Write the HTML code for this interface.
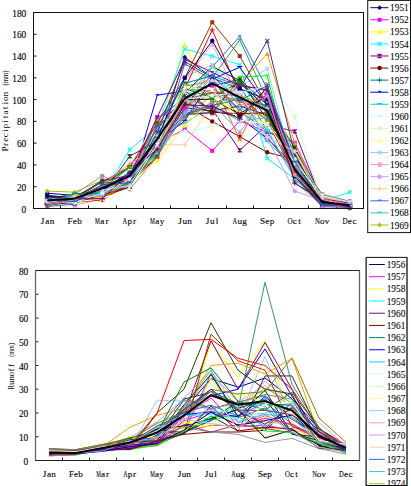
<!DOCTYPE html>
<html><head><meta charset="utf-8"><style>
html,body{margin:0;padding:0;background:#fff;}
body{width:411px;height:486px;overflow:hidden;}
svg{display:block;}
text{font-family:"Liberation Serif",serif;fill:#000;}
.tl{font-size:9.4px;stroke:#000;stroke-width:0.12px;}
.ml{font-size:9.2px;stroke:#000;stroke-width:0.12px;}
.lg{font-size:9.3px;stroke:#000;stroke-width:0.08px;}
.at{font-size:9.2px;}
</style></head><body>
<svg width="411" height="486" viewBox="0 0 411 486">
<line x1="33.5" y1="208.50" x2="36.5" y2="208.50" stroke="#111" stroke-width="1"/>
<text x="26.30" y="212.50" class="tl" text-anchor="end">0</text>
<line x1="33.5" y1="186.72" x2="36.5" y2="186.72" stroke="#111" stroke-width="1"/>
<text x="26.30" y="190.72" class="tl" text-anchor="end">20</text>
<line x1="33.5" y1="164.94" x2="36.5" y2="164.94" stroke="#111" stroke-width="1"/>
<text x="26.30" y="168.94" class="tl" text-anchor="end">40</text>
<line x1="33.5" y1="143.17" x2="36.5" y2="143.17" stroke="#111" stroke-width="1"/>
<text x="26.30" y="147.17" class="tl" text-anchor="end">60</text>
<line x1="33.5" y1="121.39" x2="36.5" y2="121.39" stroke="#111" stroke-width="1"/>
<text x="26.30" y="125.39" class="tl" text-anchor="end">80</text>
<line x1="33.5" y1="99.61" x2="36.5" y2="99.61" stroke="#111" stroke-width="1"/>
<text x="26.30" y="103.61" class="tl" text-anchor="end">100</text>
<line x1="33.5" y1="77.83" x2="36.5" y2="77.83" stroke="#111" stroke-width="1"/>
<text x="26.30" y="81.83" class="tl" text-anchor="end">120</text>
<line x1="33.5" y1="56.06" x2="36.5" y2="56.06" stroke="#111" stroke-width="1"/>
<text x="26.30" y="60.06" class="tl" text-anchor="end">140</text>
<line x1="33.5" y1="34.28" x2="36.5" y2="34.28" stroke="#111" stroke-width="1"/>
<text x="26.30" y="38.28" class="tl" text-anchor="end">160</text>
<line x1="33.5" y1="12.50" x2="36.5" y2="12.50" stroke="#111" stroke-width="1"/>
<text x="26.30" y="16.50" class="tl" text-anchor="end">180</text>
<line x1="60.50" y1="208.5" x2="60.50" y2="205.5" stroke="#111" stroke-width="1"/>
<line x1="88.50" y1="208.5" x2="88.50" y2="205.5" stroke="#111" stroke-width="1"/>
<line x1="116.50" y1="208.5" x2="116.50" y2="205.5" stroke="#111" stroke-width="1"/>
<line x1="143.50" y1="208.5" x2="143.50" y2="205.5" stroke="#111" stroke-width="1"/>
<line x1="170.50" y1="208.5" x2="170.50" y2="205.5" stroke="#111" stroke-width="1"/>
<line x1="198.50" y1="208.5" x2="198.50" y2="205.5" stroke="#111" stroke-width="1"/>
<line x1="226.50" y1="208.5" x2="226.50" y2="205.5" stroke="#111" stroke-width="1"/>
<line x1="253.50" y1="208.5" x2="253.50" y2="205.5" stroke="#111" stroke-width="1"/>
<line x1="280.50" y1="208.5" x2="280.50" y2="205.5" stroke="#111" stroke-width="1"/>
<line x1="308.50" y1="208.5" x2="308.50" y2="205.5" stroke="#111" stroke-width="1"/>
<line x1="336.50" y1="208.5" x2="336.50" y2="205.5" stroke="#111" stroke-width="1"/>
<text x="42.45" y="224.40" text-anchor="middle" class="ml">J</text><text x="47.25" y="224.40" text-anchor="middle" class="ml">a</text><text x="52.05" y="224.40" text-anchor="middle" class="ml">n</text>
<text x="69.95" y="224.40" text-anchor="middle" class="ml">F</text><text x="74.75" y="224.40" text-anchor="middle" class="ml">e</text><text x="79.55" y="224.40" text-anchor="middle" class="ml">b</text>
<text transform="translate(97.45,224.40) scale(0.596,1)" text-anchor="middle" class="ml">M</text><text x="102.25" y="224.40" text-anchor="middle" class="ml">a</text><text x="107.05" y="224.40" text-anchor="middle" class="ml">r</text>
<text transform="translate(124.95,224.40) scale(0.703,1)" text-anchor="middle" class="ml">A</text><text x="129.75" y="224.40" text-anchor="middle" class="ml">p</text><text x="134.55" y="224.40" text-anchor="middle" class="ml">r</text>
<text transform="translate(152.45,224.40) scale(0.596,1)" text-anchor="middle" class="ml">M</text><text x="157.25" y="224.40" text-anchor="middle" class="ml">a</text><text x="162.05" y="224.40" text-anchor="middle" class="ml">y</text>
<text x="179.95" y="224.40" text-anchor="middle" class="ml">J</text><text x="184.75" y="224.40" text-anchor="middle" class="ml">u</text><text x="189.55" y="224.40" text-anchor="middle" class="ml">n</text>
<text x="207.45" y="224.40" text-anchor="middle" class="ml">J</text><text x="212.25" y="224.40" text-anchor="middle" class="ml">u</text><text x="217.05" y="224.40" text-anchor="middle" class="ml">l</text>
<text transform="translate(234.95,224.40) scale(0.703,1)" text-anchor="middle" class="ml">A</text><text x="239.75" y="224.40" text-anchor="middle" class="ml">u</text><text x="244.55" y="224.40" text-anchor="middle" class="ml">g</text>
<text x="262.45" y="224.40" text-anchor="middle" class="ml">S</text><text x="267.25" y="224.40" text-anchor="middle" class="ml">e</text><text x="272.05" y="224.40" text-anchor="middle" class="ml">p</text>
<text transform="translate(289.95,224.40) scale(0.774,1)" text-anchor="middle" class="ml">O</text><text x="294.75" y="224.40" text-anchor="middle" class="ml">c</text><text x="299.55" y="224.40" text-anchor="middle" class="ml">t</text>
<text transform="translate(317.45,224.40) scale(0.739,1)" text-anchor="middle" class="ml">N</text><text x="322.25" y="224.40" text-anchor="middle" class="ml">o</text><text transform="translate(327.05,224.40) scale(0.991,1)" text-anchor="middle" class="ml">v</text>
<text transform="translate(344.95,224.40) scale(0.759,1)" text-anchor="middle" class="ml">D</text><text x="349.75" y="224.40" text-anchor="middle" class="ml">e</text><text x="354.55" y="224.40" text-anchor="middle" class="ml">c</text>
<polyline points="47.25,193.26 74.75,195.43 102.25,196.49 129.75,187.28 157.25,145.24 184.75,57.14 212.25,77.83 239.75,117.99 267.25,138.33 294.75,166.22 322.25,201.88 349.75,202.79" fill="none" stroke="#000080" stroke-width="1" stroke-linejoin="miter"/>
<path d="M47.25 190.86L49.65 193.26L47.25 195.66L44.85 193.26Z" fill="#000080"/>
<path d="M74.75 193.03L77.15 195.43L74.75 197.83L72.35 195.43Z" fill="#000080"/>
<path d="M102.25 194.09L104.65 196.49L102.25 198.89L99.85 196.49Z" fill="#000080"/>
<path d="M129.75 184.88L132.15 187.28L129.75 189.68L127.35 187.28Z" fill="#000080"/>
<path d="M157.25 142.84L159.65 145.24L157.25 147.64L154.85 145.24Z" fill="#000080"/>
<path d="M184.75 54.74L187.15 57.14L184.75 59.54L182.35 57.14Z" fill="#000080"/>
<path d="M212.25 75.43L214.65 77.83L212.25 80.23L209.85 77.83Z" fill="#000080"/>
<path d="M239.75 115.59L242.15 117.99L239.75 120.39L237.35 117.99Z" fill="#000080"/>
<path d="M267.25 135.93L269.65 138.33L267.25 140.73L264.85 138.33Z" fill="#000080"/>
<path d="M294.75 163.82L297.15 166.22L294.75 168.62L292.35 166.22Z" fill="#000080"/>
<path d="M322.25 199.48L324.65 201.88L322.25 204.28L319.85 201.88Z" fill="#000080"/>
<path d="M349.75 200.39L352.15 202.79L349.75 205.19L347.35 202.79Z" fill="#000080"/>
<polyline points="47.25,200.98 74.75,198.43 102.25,180.53 129.75,177.44 157.25,144.31 184.75,129.01 212.25,150.79 239.75,120.74 267.25,132.28 294.75,142.73 322.25,199.67 349.75,202.85" fill="none" stroke="#FF00FF" stroke-width="1" stroke-linejoin="miter"/>
<rect x="45.25" y="198.98" width="4" height="4" fill="#FF00FF"/>
<rect x="72.75" y="196.43" width="4" height="4" fill="#FF00FF"/>
<rect x="100.25" y="178.53" width="4" height="4" fill="#FF00FF"/>
<rect x="127.75" y="175.44" width="4" height="4" fill="#FF00FF"/>
<rect x="155.25" y="142.31" width="4" height="4" fill="#FF00FF"/>
<rect x="182.75" y="127.01" width="4" height="4" fill="#FF00FF"/>
<rect x="210.25" y="148.79" width="4" height="4" fill="#FF00FF"/>
<rect x="237.75" y="118.74" width="4" height="4" fill="#FF00FF"/>
<rect x="265.25" y="130.28" width="4" height="4" fill="#FF00FF"/>
<rect x="292.75" y="140.73" width="4" height="4" fill="#FF00FF"/>
<rect x="320.25" y="197.67" width="4" height="4" fill="#FF00FF"/>
<rect x="347.75" y="200.85" width="4" height="4" fill="#FF00FF"/>
<polyline points="47.25,199.74 74.75,203.84 102.25,184.99 129.75,184.75 157.25,139.90 184.75,44.51 212.25,102.88 239.75,99.61 267.25,99.73 294.75,147.65 322.25,200.63 349.75,202.44" fill="none" stroke="#FFFF00" stroke-width="1" stroke-linejoin="miter"/>
<path d="M47.25 197.24L49.75 201.74L44.75 201.74Z" fill="#FFFF00"/>
<path d="M74.75 201.34L77.25 205.84L72.25 205.84Z" fill="#FFFF00"/>
<path d="M102.25 182.49L104.75 186.99L99.75 186.99Z" fill="#FFFF00"/>
<path d="M129.75 182.25L132.25 186.75L127.25 186.75Z" fill="#FFFF00"/>
<path d="M157.25 137.40L159.75 141.90L154.75 141.90Z" fill="#FFFF00"/>
<path d="M184.75 42.01L187.25 46.51L182.25 46.51Z" fill="#FFFF00"/>
<path d="M212.25 100.38L214.75 104.88L209.75 104.88Z" fill="#FFFF00"/>
<path d="M239.75 97.11L242.25 101.61L237.25 101.61Z" fill="#FFFF00"/>
<path d="M267.25 97.23L269.75 101.73L264.75 101.73Z" fill="#FFFF00"/>
<path d="M294.75 145.15L297.25 149.65L292.25 149.65Z" fill="#FFFF00"/>
<path d="M322.25 198.13L324.75 202.63L319.75 202.63Z" fill="#FFFF00"/>
<path d="M349.75 199.94L352.25 204.44L347.25 204.44Z" fill="#FFFF00"/>
<polyline points="47.25,204.15 74.75,198.17 102.25,194.47 129.75,149.70 157.25,126.83 184.75,48.98 212.25,56.06 239.75,64.77 267.25,158.41 294.75,178.92 322.25,201.21 349.75,192.17" fill="none" stroke="#00FFFF" stroke-width="1" stroke-linejoin="miter"/>
<path d="M45.25 202.15L49.25 206.15M49.25 202.15L45.25 206.15" stroke="#00FFFF" stroke-width="1.1" fill="none"/>
<path d="M72.75 196.17L76.75 200.17M76.75 196.17L72.75 200.17" stroke="#00FFFF" stroke-width="1.1" fill="none"/>
<path d="M100.25 192.47L104.25 196.47M104.25 192.47L100.25 196.47" stroke="#00FFFF" stroke-width="1.1" fill="none"/>
<path d="M127.75 147.70L131.75 151.70M131.75 147.70L127.75 151.70" stroke="#00FFFF" stroke-width="1.1" fill="none"/>
<path d="M155.25 124.83L159.25 128.83M159.25 124.83L155.25 128.83" stroke="#00FFFF" stroke-width="1.1" fill="none"/>
<path d="M182.75 46.98L186.75 50.98M186.75 46.98L182.75 50.98" stroke="#00FFFF" stroke-width="1.1" fill="none"/>
<path d="M210.25 54.06L214.25 58.06M214.25 54.06L210.25 58.06" stroke="#00FFFF" stroke-width="1.1" fill="none"/>
<path d="M237.75 62.77L241.75 66.77M241.75 62.77L237.75 66.77" stroke="#00FFFF" stroke-width="1.1" fill="none"/>
<path d="M265.25 156.41L269.25 160.41M269.25 156.41L265.25 160.41" stroke="#00FFFF" stroke-width="1.1" fill="none"/>
<path d="M292.75 176.92L296.75 180.92M296.75 176.92L292.75 180.92" stroke="#00FFFF" stroke-width="1.1" fill="none"/>
<path d="M320.25 199.21L324.25 203.21M324.25 199.21L320.25 203.21" stroke="#00FFFF" stroke-width="1.1" fill="none"/>
<path d="M347.75 190.17L351.75 194.17M351.75 190.17L347.75 194.17" stroke="#00FFFF" stroke-width="1.1" fill="none"/>
<polyline points="47.25,202.73 74.75,194.73 102.25,189.69 129.75,166.44 157.25,129.33 184.75,95.95 212.25,109.41 239.75,150.35 267.25,124.66 294.75,131.41 322.25,202.04 349.75,203.23" fill="none" stroke="#800080" stroke-width="1" stroke-linejoin="miter"/>
<path d="M45.25 200.73L49.25 204.73M49.25 200.73L45.25 204.73M47.25 200.43L47.25 205.03" stroke="#800080" stroke-width="1.2" fill="none"/>
<path d="M72.75 192.73L76.75 196.73M76.75 192.73L72.75 196.73M74.75 192.43L74.75 197.03" stroke="#800080" stroke-width="1.2" fill="none"/>
<path d="M100.25 187.69L104.25 191.69M104.25 187.69L100.25 191.69M102.25 187.39L102.25 191.99" stroke="#800080" stroke-width="1.2" fill="none"/>
<path d="M127.75 164.44L131.75 168.44M131.75 164.44L127.75 168.44M129.75 164.14L129.75 168.74" stroke="#800080" stroke-width="1.2" fill="none"/>
<path d="M155.25 127.33L159.25 131.33M159.25 127.33L155.25 131.33M157.25 127.03L157.25 131.63" stroke="#800080" stroke-width="1.2" fill="none"/>
<path d="M182.75 93.95L186.75 97.95M186.75 93.95L182.75 97.95M184.75 93.65L184.75 98.25" stroke="#800080" stroke-width="1.2" fill="none"/>
<path d="M210.25 107.41L214.25 111.41M214.25 107.41L210.25 111.41M212.25 107.11L212.25 111.71" stroke="#800080" stroke-width="1.2" fill="none"/>
<path d="M237.75 148.35L241.75 152.35M241.75 148.35L237.75 152.35M239.75 148.05L239.75 152.65" stroke="#800080" stroke-width="1.2" fill="none"/>
<path d="M265.25 122.66L269.25 126.66M269.25 122.66L265.25 126.66M267.25 122.36L267.25 126.96" stroke="#800080" stroke-width="1.2" fill="none"/>
<path d="M292.75 129.41L296.75 133.41M296.75 129.41L292.75 133.41M294.75 129.11L294.75 133.71" stroke="#800080" stroke-width="1.2" fill="none"/>
<path d="M320.25 200.04L324.25 204.04M324.25 200.04L320.25 204.04M322.25 199.74L322.25 204.34" stroke="#800080" stroke-width="1.2" fill="none"/>
<path d="M347.75 201.23L351.75 205.23M351.75 201.23L347.75 205.23M349.75 200.93L349.75 205.53" stroke="#800080" stroke-width="1.2" fill="none"/>
<polyline points="47.25,200.22 74.75,197.51 102.25,188.86 129.75,181.08 157.25,148.14 184.75,104.97 212.25,121.39 239.75,136.63 267.25,152.31 294.75,159.50 322.25,198.37 349.75,203.28" fill="none" stroke="#800000" stroke-width="1" stroke-linejoin="miter"/>
<circle cx="47.25" cy="200.22" r="2.2" fill="#800000"/>
<circle cx="74.75" cy="197.51" r="2.2" fill="#800000"/>
<circle cx="102.25" cy="188.86" r="2.2" fill="#800000"/>
<circle cx="129.75" cy="181.08" r="2.2" fill="#800000"/>
<circle cx="157.25" cy="148.14" r="2.2" fill="#800000"/>
<circle cx="184.75" cy="104.97" r="2.2" fill="#800000"/>
<circle cx="212.25" cy="121.39" r="2.2" fill="#800000"/>
<circle cx="239.75" cy="136.63" r="2.2" fill="#800000"/>
<circle cx="267.25" cy="152.31" r="2.2" fill="#800000"/>
<circle cx="294.75" cy="159.50" r="2.2" fill="#800000"/>
<circle cx="322.25" cy="198.37" r="2.2" fill="#800000"/>
<circle cx="349.75" cy="203.28" r="2.2" fill="#800000"/>
<polyline points="47.25,198.93 74.75,193.68 102.25,192.66 129.75,182.55 157.25,118.87 184.75,98.01 212.25,75.77 239.75,86.24 267.25,130.35 294.75,148.31 322.25,195.52 349.75,204.68" fill="none" stroke="#008080" stroke-width="1" stroke-linejoin="miter"/>
<path d="M44.75 198.93L49.75 198.93M47.25 196.43L47.25 201.43" stroke="#008080" stroke-width="1" fill="none"/>
<path d="M72.25 193.68L77.25 193.68M74.75 191.18L74.75 196.18" stroke="#008080" stroke-width="1" fill="none"/>
<path d="M99.75 192.66L104.75 192.66M102.25 190.16L102.25 195.16" stroke="#008080" stroke-width="1" fill="none"/>
<path d="M127.25 182.55L132.25 182.55M129.75 180.05L129.75 185.05" stroke="#008080" stroke-width="1" fill="none"/>
<path d="M154.75 118.87L159.75 118.87M157.25 116.37L157.25 121.37" stroke="#008080" stroke-width="1" fill="none"/>
<path d="M182.25 98.01L187.25 98.01M184.75 95.51L184.75 100.51" stroke="#008080" stroke-width="1" fill="none"/>
<path d="M209.75 75.77L214.75 75.77M212.25 73.27L212.25 78.27" stroke="#008080" stroke-width="1" fill="none"/>
<path d="M237.25 86.24L242.25 86.24M239.75 83.74L239.75 88.74" stroke="#008080" stroke-width="1" fill="none"/>
<path d="M264.75 130.35L269.75 130.35M267.25 127.85L267.25 132.85" stroke="#008080" stroke-width="1" fill="none"/>
<path d="M292.25 148.31L297.25 148.31M294.75 145.81L294.75 150.81" stroke="#008080" stroke-width="1" fill="none"/>
<path d="M319.75 195.52L324.75 195.52M322.25 193.02L322.25 198.02" stroke="#008080" stroke-width="1" fill="none"/>
<path d="M347.25 204.68L352.25 204.68M349.75 202.18L349.75 207.18" stroke="#008080" stroke-width="1" fill="none"/>
<polyline points="47.25,200.45 74.75,201.34 102.25,190.07 129.75,188.90 157.25,95.26 184.75,90.90 212.25,85.82 239.75,79.30 267.25,119.80 294.75,156.94 322.25,196.89 349.75,205.25" fill="none" stroke="#0000FF" stroke-width="1" stroke-linejoin="miter"/>
<rect x="45.75" y="199.15" width="3" height="1.3" fill="#0000FF"/>
<rect x="73.25" y="200.04" width="3" height="1.3" fill="#0000FF"/>
<rect x="100.75" y="188.77" width="3" height="1.3" fill="#0000FF"/>
<rect x="128.25" y="187.60" width="3" height="1.3" fill="#0000FF"/>
<rect x="155.75" y="93.96" width="3" height="1.3" fill="#0000FF"/>
<rect x="183.25" y="89.60" width="3" height="1.3" fill="#0000FF"/>
<rect x="210.75" y="84.52" width="3" height="1.3" fill="#0000FF"/>
<rect x="238.25" y="78.00" width="3" height="1.3" fill="#0000FF"/>
<rect x="265.75" y="118.50" width="3" height="1.3" fill="#0000FF"/>
<rect x="293.25" y="155.64" width="3" height="1.3" fill="#0000FF"/>
<rect x="320.75" y="195.59" width="3" height="1.3" fill="#0000FF"/>
<rect x="348.25" y="203.95" width="3" height="1.3" fill="#0000FF"/>
<polyline points="47.25,205.84 74.75,200.60 102.25,191.89 129.75,171.50 157.25,154.84 184.75,111.28 212.25,91.13 239.75,109.02 267.25,141.81 294.75,167.53 322.25,196.10 349.75,204.46" fill="none" stroke="#00CCFF" stroke-width="1" stroke-linejoin="miter"/>
<rect x="44.75" y="204.54" width="5" height="1.3" fill="#00CCFF"/>
<rect x="72.25" y="199.30" width="5" height="1.3" fill="#00CCFF"/>
<rect x="99.75" y="190.59" width="5" height="1.3" fill="#00CCFF"/>
<rect x="127.25" y="170.20" width="5" height="1.3" fill="#00CCFF"/>
<rect x="154.75" y="153.54" width="5" height="1.3" fill="#00CCFF"/>
<rect x="182.25" y="109.98" width="5" height="1.3" fill="#00CCFF"/>
<rect x="209.75" y="89.83" width="5" height="1.3" fill="#00CCFF"/>
<rect x="237.25" y="107.72" width="5" height="1.3" fill="#00CCFF"/>
<rect x="264.75" y="140.51" width="5" height="1.3" fill="#00CCFF"/>
<rect x="292.25" y="166.23" width="5" height="1.3" fill="#00CCFF"/>
<rect x="319.75" y="194.80" width="5" height="1.3" fill="#00CCFF"/>
<rect x="347.25" y="203.16" width="5" height="1.3" fill="#00CCFF"/>
<polyline points="47.25,204.09 74.75,199.24 102.25,181.30 129.75,160.92 157.25,142.30 184.75,131.19 212.25,126.83 239.75,80.13 267.25,129.58 294.75,177.31 322.25,200.53 349.75,202.78" fill="none" stroke="#CCFFFF" stroke-width="1" stroke-linejoin="miter"/>
<path d="M47.25 201.69L49.65 204.09L47.25 206.49L44.85 204.09Z" fill="#CCFFFF"/>
<path d="M74.75 196.84L77.15 199.24L74.75 201.64L72.35 199.24Z" fill="#CCFFFF"/>
<path d="M102.25 178.90L104.65 181.30L102.25 183.70L99.85 181.30Z" fill="#CCFFFF"/>
<path d="M129.75 158.52L132.15 160.92L129.75 163.32L127.35 160.92Z" fill="#CCFFFF"/>
<path d="M157.25 139.90L159.65 142.30L157.25 144.70L154.85 142.30Z" fill="#CCFFFF"/>
<path d="M184.75 128.79L187.15 131.19L184.75 133.59L182.35 131.19Z" fill="#CCFFFF"/>
<path d="M212.25 124.43L214.65 126.83L212.25 129.23L209.85 126.83Z" fill="#CCFFFF"/>
<path d="M239.75 77.73L242.15 80.13L239.75 82.53L237.35 80.13Z" fill="#CCFFFF"/>
<path d="M267.25 127.18L269.65 129.58L267.25 131.98L264.85 129.58Z" fill="#CCFFFF"/>
<path d="M294.75 174.91L297.15 177.31L294.75 179.71L292.35 177.31Z" fill="#CCFFFF"/>
<path d="M322.25 198.13L324.65 200.53L322.25 202.93L319.85 200.53Z" fill="#CCFFFF"/>
<path d="M349.75 200.38L352.15 202.78L349.75 205.18L347.35 202.78Z" fill="#CCFFFF"/>
<polyline points="47.25,199.97 74.75,204.25 102.25,193.88 129.75,180.78 157.25,142.99 184.75,92.34 212.25,92.62 239.75,44.08 267.25,77.83 294.75,116.49 322.25,203.06 349.75,203.79" fill="none" stroke="#CCFFCC" stroke-width="1" stroke-linejoin="miter"/>
<rect x="45.25" y="197.97" width="4" height="4" fill="#CCFFCC"/>
<rect x="72.75" y="202.25" width="4" height="4" fill="#CCFFCC"/>
<rect x="100.25" y="191.88" width="4" height="4" fill="#CCFFCC"/>
<rect x="127.75" y="178.78" width="4" height="4" fill="#CCFFCC"/>
<rect x="155.25" y="140.99" width="4" height="4" fill="#CCFFCC"/>
<rect x="182.75" y="90.34" width="4" height="4" fill="#CCFFCC"/>
<rect x="210.25" y="90.62" width="4" height="4" fill="#CCFFCC"/>
<rect x="237.75" y="42.08" width="4" height="4" fill="#CCFFCC"/>
<rect x="265.25" y="75.83" width="4" height="4" fill="#CCFFCC"/>
<rect x="292.75" y="114.49" width="4" height="4" fill="#CCFFCC"/>
<rect x="320.25" y="201.06" width="4" height="4" fill="#CCFFCC"/>
<rect x="347.75" y="201.79" width="4" height="4" fill="#CCFFCC"/>
<polyline points="47.25,202.46 74.75,198.44 102.25,196.89 129.75,164.35 157.25,120.91 184.75,100.10 212.25,128.47 239.75,110.49 267.25,101.85 294.75,163.14 322.25,194.53 349.75,204.00" fill="none" stroke="#FFFF99" stroke-width="1" stroke-linejoin="miter"/>
<path d="M47.25 199.96L49.75 204.46L44.75 204.46Z" fill="#FFFF99"/>
<path d="M74.75 195.94L77.25 200.44L72.25 200.44Z" fill="#FFFF99"/>
<path d="M102.25 194.39L104.75 198.89L99.75 198.89Z" fill="#FFFF99"/>
<path d="M129.75 161.85L132.25 166.35L127.25 166.35Z" fill="#FFFF99"/>
<path d="M157.25 118.41L159.75 122.91L154.75 122.91Z" fill="#FFFF99"/>
<path d="M184.75 97.60L187.25 102.10L182.25 102.10Z" fill="#FFFF99"/>
<path d="M212.25 125.97L214.75 130.47L209.75 130.47Z" fill="#FFFF99"/>
<path d="M239.75 107.99L242.25 112.49L237.25 112.49Z" fill="#FFFF99"/>
<path d="M267.25 99.35L269.75 103.85L264.75 103.85Z" fill="#FFFF99"/>
<path d="M294.75 160.64L297.25 165.14L292.25 165.14Z" fill="#FFFF99"/>
<path d="M322.25 192.03L324.75 196.53L319.75 196.53Z" fill="#FFFF99"/>
<path d="M349.75 201.50L352.25 206.00L347.25 206.00Z" fill="#FFFF99"/>
<polyline points="47.25,206.84 74.75,195.32 102.25,191.68 129.75,187.48 157.25,141.04 184.75,76.74 212.25,64.97 239.75,87.83 267.25,68.58 294.75,174.11 322.25,206.75 349.75,205.85" fill="none" stroke="#99CCFF" stroke-width="1" stroke-linejoin="miter"/>
<path d="M45.25 204.84L49.25 208.84M49.25 204.84L45.25 208.84" stroke="#99CCFF" stroke-width="1.1" fill="none"/>
<path d="M72.75 193.32L76.75 197.32M76.75 193.32L72.75 197.32" stroke="#99CCFF" stroke-width="1.1" fill="none"/>
<path d="M100.25 189.68L104.25 193.68M104.25 189.68L100.25 193.68" stroke="#99CCFF" stroke-width="1.1" fill="none"/>
<path d="M127.75 185.48L131.75 189.48M131.75 185.48L127.75 189.48" stroke="#99CCFF" stroke-width="1.1" fill="none"/>
<path d="M155.25 139.04L159.25 143.04M159.25 139.04L155.25 143.04" stroke="#99CCFF" stroke-width="1.1" fill="none"/>
<path d="M182.75 74.74L186.75 78.74M186.75 74.74L182.75 78.74" stroke="#99CCFF" stroke-width="1.1" fill="none"/>
<path d="M210.25 62.97L214.25 66.97M214.25 62.97L210.25 66.97" stroke="#99CCFF" stroke-width="1.1" fill="none"/>
<path d="M237.75 85.83L241.75 89.83M241.75 85.83L237.75 89.83" stroke="#99CCFF" stroke-width="1.1" fill="none"/>
<path d="M265.25 66.58L269.25 70.58M269.25 66.58L265.25 70.58" stroke="#99CCFF" stroke-width="1.1" fill="none"/>
<path d="M292.75 172.11L296.75 176.11M296.75 172.11L292.75 176.11" stroke="#99CCFF" stroke-width="1.1" fill="none"/>
<path d="M320.25 204.75L324.25 208.75M324.25 204.75L320.25 208.75" stroke="#99CCFF" stroke-width="1.1" fill="none"/>
<path d="M347.75 203.85L351.75 207.85M351.75 203.85L347.75 207.85" stroke="#99CCFF" stroke-width="1.1" fill="none"/>
<polyline points="47.25,201.88 74.75,205.56 102.25,198.54 129.75,173.35 157.25,128.12 184.75,80.01 212.25,44.30 239.75,99.61 267.25,105.43 294.75,182.45 322.25,205.34 349.75,207.12" fill="none" stroke="#FF99CC" stroke-width="1" stroke-linejoin="miter"/>
<path d="M45.25 199.88L49.25 203.88M49.25 199.88L45.25 203.88M47.25 199.58L47.25 204.18" stroke="#FF99CC" stroke-width="1.2" fill="none"/>
<path d="M72.75 203.56L76.75 207.56M76.75 203.56L72.75 207.56M74.75 203.26L74.75 207.86" stroke="#FF99CC" stroke-width="1.2" fill="none"/>
<path d="M100.25 196.54L104.25 200.54M104.25 196.54L100.25 200.54M102.25 196.24L102.25 200.84" stroke="#FF99CC" stroke-width="1.2" fill="none"/>
<path d="M127.75 171.35L131.75 175.35M131.75 171.35L127.75 175.35M129.75 171.05L129.75 175.65" stroke="#FF99CC" stroke-width="1.2" fill="none"/>
<path d="M155.25 126.12L159.25 130.12M159.25 126.12L155.25 130.12M157.25 125.82L157.25 130.42" stroke="#FF99CC" stroke-width="1.2" fill="none"/>
<path d="M182.75 78.01L186.75 82.01M186.75 78.01L182.75 82.01M184.75 77.71L184.75 82.31" stroke="#FF99CC" stroke-width="1.2" fill="none"/>
<path d="M210.25 42.30L214.25 46.30M214.25 42.30L210.25 46.30M212.25 42.00L212.25 46.60" stroke="#FF99CC" stroke-width="1.2" fill="none"/>
<path d="M237.75 97.61L241.75 101.61M241.75 97.61L237.75 101.61M239.75 97.31L239.75 101.91" stroke="#FF99CC" stroke-width="1.2" fill="none"/>
<path d="M265.25 103.43L269.25 107.43M269.25 103.43L265.25 107.43M267.25 103.13L267.25 107.73" stroke="#FF99CC" stroke-width="1.2" fill="none"/>
<path d="M292.75 180.45L296.75 184.45M296.75 180.45L292.75 184.45M294.75 180.15L294.75 184.75" stroke="#FF99CC" stroke-width="1.2" fill="none"/>
<path d="M320.25 203.34L324.25 207.34M324.25 203.34L320.25 207.34M322.25 203.04L322.25 207.64" stroke="#FF99CC" stroke-width="1.2" fill="none"/>
<path d="M347.75 205.12L351.75 209.12M351.75 205.12L347.75 209.12M349.75 204.82L349.75 209.42" stroke="#FF99CC" stroke-width="1.2" fill="none"/>
<polyline points="47.25,205.04 74.75,196.37 102.25,189.56 129.75,166.42 157.25,145.32 184.75,110.18 212.25,113.72 239.75,106.20 267.25,138.38 294.75,191.08 322.25,200.99 349.75,202.98" fill="none" stroke="#CC99FF" stroke-width="1" stroke-linejoin="miter"/>
<circle cx="47.25" cy="205.04" r="2.2" fill="#CC99FF"/>
<circle cx="74.75" cy="196.37" r="2.2" fill="#CC99FF"/>
<circle cx="102.25" cy="189.56" r="2.2" fill="#CC99FF"/>
<circle cx="129.75" cy="166.42" r="2.2" fill="#CC99FF"/>
<circle cx="157.25" cy="145.32" r="2.2" fill="#CC99FF"/>
<circle cx="184.75" cy="110.18" r="2.2" fill="#CC99FF"/>
<circle cx="212.25" cy="113.72" r="2.2" fill="#CC99FF"/>
<circle cx="239.75" cy="106.20" r="2.2" fill="#CC99FF"/>
<circle cx="267.25" cy="138.38" r="2.2" fill="#CC99FF"/>
<circle cx="294.75" cy="191.08" r="2.2" fill="#CC99FF"/>
<circle cx="322.25" cy="200.99" r="2.2" fill="#CC99FF"/>
<circle cx="349.75" cy="202.98" r="2.2" fill="#CC99FF"/>
<polyline points="47.25,196.13 74.75,197.06 102.25,193.53 129.75,175.05 157.25,144.80 184.75,144.80 212.25,105.06 239.75,113.71 267.25,104.99 294.75,163.83 322.25,202.47 349.75,201.50" fill="none" stroke="#FFCC99" stroke-width="1" stroke-linejoin="miter"/>
<path d="M44.75 196.13L49.75 196.13M47.25 193.63L47.25 198.63" stroke="#FFCC99" stroke-width="1" fill="none"/>
<path d="M72.25 197.06L77.25 197.06M74.75 194.56L74.75 199.56" stroke="#FFCC99" stroke-width="1" fill="none"/>
<path d="M99.75 193.53L104.75 193.53M102.25 191.03L102.25 196.03" stroke="#FFCC99" stroke-width="1" fill="none"/>
<path d="M127.25 175.05L132.25 175.05M129.75 172.55L129.75 177.55" stroke="#FFCC99" stroke-width="1" fill="none"/>
<path d="M154.75 144.80L159.75 144.80M157.25 142.30L157.25 147.30" stroke="#FFCC99" stroke-width="1" fill="none"/>
<path d="M182.25 144.80L187.25 144.80M184.75 142.30L184.75 147.30" stroke="#FFCC99" stroke-width="1" fill="none"/>
<path d="M209.75 105.06L214.75 105.06M212.25 102.56L212.25 107.56" stroke="#FFCC99" stroke-width="1" fill="none"/>
<path d="M237.25 113.71L242.25 113.71M239.75 111.21L239.75 116.21" stroke="#FFCC99" stroke-width="1" fill="none"/>
<path d="M264.75 104.99L269.75 104.99M267.25 102.49L267.25 107.49" stroke="#FFCC99" stroke-width="1" fill="none"/>
<path d="M292.25 163.83L297.25 163.83M294.75 161.33L294.75 166.33" stroke="#FFCC99" stroke-width="1" fill="none"/>
<path d="M319.75 202.47L324.75 202.47M322.25 199.97L322.25 204.97" stroke="#FFCC99" stroke-width="1" fill="none"/>
<path d="M347.25 201.50L352.25 201.50M349.75 199.00L349.75 204.00" stroke="#FFCC99" stroke-width="1" fill="none"/>
<polyline points="47.25,199.63 74.75,194.88 102.25,195.34 129.75,187.49 157.25,131.58 184.75,110.81 212.25,66.94 239.75,36.46 267.25,88.72 294.75,159.83 322.25,206.47 349.75,203.57" fill="none" stroke="#3366FF" stroke-width="1" stroke-linejoin="miter"/>
<rect x="45.75" y="198.33" width="3" height="1.3" fill="#3366FF"/>
<rect x="73.25" y="193.58" width="3" height="1.3" fill="#3366FF"/>
<rect x="100.75" y="194.04" width="3" height="1.3" fill="#3366FF"/>
<rect x="128.25" y="186.19" width="3" height="1.3" fill="#3366FF"/>
<rect x="155.75" y="130.28" width="3" height="1.3" fill="#3366FF"/>
<rect x="183.25" y="109.51" width="3" height="1.3" fill="#3366FF"/>
<rect x="210.75" y="65.64" width="3" height="1.3" fill="#3366FF"/>
<rect x="238.25" y="35.16" width="3" height="1.3" fill="#3366FF"/>
<rect x="265.75" y="87.42" width="3" height="1.3" fill="#3366FF"/>
<rect x="293.25" y="158.53" width="3" height="1.3" fill="#3366FF"/>
<rect x="320.75" y="205.17" width="3" height="1.3" fill="#3366FF"/>
<rect x="348.25" y="202.27" width="3" height="1.3" fill="#3366FF"/>
<polyline points="47.25,204.77 74.75,201.64 102.25,188.01 129.75,173.41 157.25,132.37 184.75,123.32 212.25,105.23 239.75,121.18 267.25,117.36 294.75,165.07 322.25,204.79 349.75,205.24" fill="none" stroke="#33CCCC" stroke-width="1" stroke-linejoin="miter"/>
<rect x="44.75" y="203.47" width="5" height="1.3" fill="#33CCCC"/>
<rect x="72.25" y="200.34" width="5" height="1.3" fill="#33CCCC"/>
<rect x="99.75" y="186.71" width="5" height="1.3" fill="#33CCCC"/>
<rect x="127.25" y="172.11" width="5" height="1.3" fill="#33CCCC"/>
<rect x="154.75" y="131.07" width="5" height="1.3" fill="#33CCCC"/>
<rect x="182.25" y="122.02" width="5" height="1.3" fill="#33CCCC"/>
<rect x="209.75" y="103.93" width="5" height="1.3" fill="#33CCCC"/>
<rect x="237.25" y="119.88" width="5" height="1.3" fill="#33CCCC"/>
<rect x="264.75" y="116.06" width="5" height="1.3" fill="#33CCCC"/>
<rect x="292.25" y="163.77" width="5" height="1.3" fill="#33CCCC"/>
<rect x="319.75" y="203.49" width="5" height="1.3" fill="#33CCCC"/>
<rect x="347.25" y="203.94" width="5" height="1.3" fill="#33CCCC"/>
<polyline points="47.25,191.08 74.75,192.17 102.25,180.19 129.75,182.87 157.25,120.28 184.75,88.35 212.25,91.60 239.75,94.91 267.25,106.85 294.75,165.81 322.25,202.34 349.75,205.61" fill="none" stroke="#99CC00" stroke-width="1" stroke-linejoin="miter"/>
<path d="M47.25 188.68L49.65 191.08L47.25 193.48L44.85 191.08Z" fill="#99CC00"/>
<path d="M74.75 189.77L77.15 192.17L74.75 194.57L72.35 192.17Z" fill="#99CC00"/>
<path d="M102.25 177.79L104.65 180.19L102.25 182.59L99.85 180.19Z" fill="#99CC00"/>
<path d="M129.75 180.47L132.15 182.87L129.75 185.27L127.35 182.87Z" fill="#99CC00"/>
<path d="M157.25 117.88L159.65 120.28L157.25 122.68L154.85 120.28Z" fill="#99CC00"/>
<path d="M184.75 85.95L187.15 88.35L184.75 90.75L182.35 88.35Z" fill="#99CC00"/>
<path d="M212.25 89.20L214.65 91.60L212.25 94.00L209.85 91.60Z" fill="#99CC00"/>
<path d="M239.75 92.51L242.15 94.91L239.75 97.31L237.35 94.91Z" fill="#99CC00"/>
<path d="M267.25 104.45L269.65 106.85L267.25 109.25L264.85 106.85Z" fill="#99CC00"/>
<path d="M294.75 163.41L297.15 165.81L294.75 168.21L292.35 165.81Z" fill="#99CC00"/>
<path d="M322.25 199.94L324.65 202.34L322.25 204.74L319.85 202.34Z" fill="#99CC00"/>
<path d="M349.75 203.21L352.15 205.61L349.75 208.01L347.35 205.61Z" fill="#99CC00"/>
<polyline points="47.25,205.01 74.75,195.14 102.25,190.63 129.75,181.00 157.25,146.72 184.75,107.80 212.25,92.93 239.75,112.97 267.25,115.78 294.75,171.69 322.25,205.23 349.75,207.10" fill="none" stroke="#FFCC00" stroke-width="1" stroke-linejoin="miter"/>
<rect x="45.25" y="203.01" width="4" height="4" fill="#FFCC00"/>
<rect x="72.75" y="193.14" width="4" height="4" fill="#FFCC00"/>
<rect x="100.25" y="188.63" width="4" height="4" fill="#FFCC00"/>
<rect x="127.75" y="179.00" width="4" height="4" fill="#FFCC00"/>
<rect x="155.25" y="144.72" width="4" height="4" fill="#FFCC00"/>
<rect x="182.75" y="105.80" width="4" height="4" fill="#FFCC00"/>
<rect x="210.25" y="90.93" width="4" height="4" fill="#FFCC00"/>
<rect x="237.75" y="110.97" width="4" height="4" fill="#FFCC00"/>
<rect x="265.25" y="113.78" width="4" height="4" fill="#FFCC00"/>
<rect x="292.75" y="169.69" width="4" height="4" fill="#FFCC00"/>
<rect x="320.25" y="203.23" width="4" height="4" fill="#FFCC00"/>
<rect x="347.75" y="205.10" width="4" height="4" fill="#FFCC00"/>
<polyline points="47.25,205.62 74.75,197.16 102.25,200.12 129.75,182.61 157.25,149.78 184.75,115.80 212.25,95.83 239.75,83.28 267.25,53.88 294.75,143.17 322.25,204.71 349.75,205.97" fill="none" stroke="#FF9900" stroke-width="1" stroke-linejoin="miter"/>
<path d="M47.25 203.12L49.75 207.62L44.75 207.62Z" fill="#FF9900"/>
<path d="M74.75 194.66L77.25 199.16L72.25 199.16Z" fill="#FF9900"/>
<path d="M102.25 197.62L104.75 202.12L99.75 202.12Z" fill="#FF9900"/>
<path d="M129.75 180.11L132.25 184.61L127.25 184.61Z" fill="#FF9900"/>
<path d="M157.25 147.28L159.75 151.78L154.75 151.78Z" fill="#FF9900"/>
<path d="M184.75 113.30L187.25 117.80L182.25 117.80Z" fill="#FF9900"/>
<path d="M212.25 93.33L214.75 97.83L209.75 97.83Z" fill="#FF9900"/>
<path d="M239.75 80.78L242.25 85.28L237.25 85.28Z" fill="#FF9900"/>
<path d="M267.25 51.38L269.75 55.88L264.75 55.88Z" fill="#FF9900"/>
<path d="M294.75 140.67L297.25 145.17L292.25 145.17Z" fill="#FF9900"/>
<path d="M322.25 202.21L324.75 206.71L319.75 206.71Z" fill="#FF9900"/>
<path d="M349.75 203.47L352.25 207.97L347.25 207.97Z" fill="#FF9900"/>
<polyline points="47.25,202.14 74.75,202.11 102.25,196.29 129.75,183.43 157.25,150.49 184.75,86.15 212.25,81.00 239.75,139.46 267.25,84.21 294.75,172.69 322.25,197.87 349.75,202.67" fill="none" stroke="#FF6600" stroke-width="1" stroke-linejoin="miter"/>
<path d="M45.25 200.14L49.25 204.14M49.25 200.14L45.25 204.14" stroke="#FF6600" stroke-width="1.1" fill="none"/>
<path d="M72.75 200.11L76.75 204.11M76.75 200.11L72.75 204.11" stroke="#FF6600" stroke-width="1.1" fill="none"/>
<path d="M100.25 194.29L104.25 198.29M104.25 194.29L100.25 198.29" stroke="#FF6600" stroke-width="1.1" fill="none"/>
<path d="M127.75 181.43L131.75 185.43M131.75 181.43L127.75 185.43" stroke="#FF6600" stroke-width="1.1" fill="none"/>
<path d="M155.25 148.49L159.25 152.49M159.25 148.49L155.25 152.49" stroke="#FF6600" stroke-width="1.1" fill="none"/>
<path d="M182.75 84.15L186.75 88.15M186.75 84.15L182.75 88.15" stroke="#FF6600" stroke-width="1.1" fill="none"/>
<path d="M210.25 79.00L214.25 83.00M214.25 79.00L210.25 83.00" stroke="#FF6600" stroke-width="1.1" fill="none"/>
<path d="M237.75 137.46L241.75 141.46M241.75 137.46L237.75 141.46" stroke="#FF6600" stroke-width="1.1" fill="none"/>
<path d="M265.25 82.21L269.25 86.21M269.25 82.21L265.25 86.21" stroke="#FF6600" stroke-width="1.1" fill="none"/>
<path d="M292.75 170.69L296.75 174.69M296.75 170.69L292.75 174.69" stroke="#FF6600" stroke-width="1.1" fill="none"/>
<path d="M320.25 195.87L324.25 199.87M324.25 195.87L320.25 199.87" stroke="#FF6600" stroke-width="1.1" fill="none"/>
<path d="M347.75 200.67L351.75 204.67M351.75 200.67L347.75 204.67" stroke="#FF6600" stroke-width="1.1" fill="none"/>
<polyline points="47.25,206.57 74.75,204.07 102.25,189.05 129.75,172.86 157.25,155.52 184.75,63.68 212.25,80.01 239.75,111.12 267.25,131.25 294.75,178.06 322.25,206.73 349.75,207.46" fill="none" stroke="#666699" stroke-width="1" stroke-linejoin="miter"/>
<path d="M45.25 204.57L49.25 208.57M49.25 204.57L45.25 208.57M47.25 204.27L47.25 208.87" stroke="#666699" stroke-width="1.2" fill="none"/>
<path d="M72.75 202.07L76.75 206.07M76.75 202.07L72.75 206.07M74.75 201.77L74.75 206.37" stroke="#666699" stroke-width="1.2" fill="none"/>
<path d="M100.25 187.05L104.25 191.05M104.25 187.05L100.25 191.05M102.25 186.75L102.25 191.35" stroke="#666699" stroke-width="1.2" fill="none"/>
<path d="M127.75 170.86L131.75 174.86M131.75 170.86L127.75 174.86M129.75 170.56L129.75 175.16" stroke="#666699" stroke-width="1.2" fill="none"/>
<path d="M155.25 153.52L159.25 157.52M159.25 153.52L155.25 157.52M157.25 153.22L157.25 157.82" stroke="#666699" stroke-width="1.2" fill="none"/>
<path d="M182.75 61.68L186.75 65.68M186.75 61.68L182.75 65.68M184.75 61.38L184.75 65.98" stroke="#666699" stroke-width="1.2" fill="none"/>
<path d="M210.25 78.01L214.25 82.01M214.25 78.01L210.25 82.01M212.25 77.71L212.25 82.31" stroke="#666699" stroke-width="1.2" fill="none"/>
<path d="M237.75 109.12L241.75 113.12M241.75 109.12L237.75 113.12M239.75 108.82L239.75 113.42" stroke="#666699" stroke-width="1.2" fill="none"/>
<path d="M265.25 129.25L269.25 133.25M269.25 129.25L265.25 133.25M267.25 128.95L267.25 133.55" stroke="#666699" stroke-width="1.2" fill="none"/>
<path d="M292.75 176.06L296.75 180.06M296.75 176.06L292.75 180.06M294.75 175.76L294.75 180.36" stroke="#666699" stroke-width="1.2" fill="none"/>
<path d="M320.25 204.73L324.25 208.73M324.25 204.73L320.25 208.73M322.25 204.43L322.25 209.03" stroke="#666699" stroke-width="1.2" fill="none"/>
<path d="M347.75 205.46L351.75 209.46M351.75 205.46L347.75 209.46M349.75 205.16L349.75 209.76" stroke="#666699" stroke-width="1.2" fill="none"/>
<polyline points="47.25,201.84 74.75,194.11 102.25,175.83 129.75,189.34 157.25,156.82 184.75,114.04 212.25,113.44 239.75,80.10 267.25,108.40 294.75,180.36 322.25,200.19 349.75,205.05" fill="none" stroke="#969696" stroke-width="1" stroke-linejoin="miter"/>
<circle cx="47.25" cy="201.84" r="2.2" fill="#969696"/>
<circle cx="74.75" cy="194.11" r="2.2" fill="#969696"/>
<circle cx="102.25" cy="175.83" r="2.2" fill="#969696"/>
<circle cx="129.75" cy="189.34" r="2.2" fill="#969696"/>
<circle cx="157.25" cy="156.82" r="2.2" fill="#969696"/>
<circle cx="184.75" cy="114.04" r="2.2" fill="#969696"/>
<circle cx="212.25" cy="113.44" r="2.2" fill="#969696"/>
<circle cx="239.75" cy="80.10" r="2.2" fill="#969696"/>
<circle cx="267.25" cy="108.40" r="2.2" fill="#969696"/>
<circle cx="294.75" cy="180.36" r="2.2" fill="#969696"/>
<circle cx="322.25" cy="200.19" r="2.2" fill="#969696"/>
<circle cx="349.75" cy="205.05" r="2.2" fill="#969696"/>
<polyline points="47.25,205.06 74.75,202.22 102.25,194.47 129.75,181.48 157.25,149.36 184.75,107.92 212.25,110.87 239.75,116.72 267.25,94.78 294.75,171.85 322.25,202.46 349.75,207.97" fill="none" stroke="#003366" stroke-width="1" stroke-linejoin="miter"/>
<path d="M44.75 205.06L49.75 205.06M47.25 202.56L47.25 207.56" stroke="#003366" stroke-width="1" fill="none"/>
<path d="M72.25 202.22L77.25 202.22M74.75 199.72L74.75 204.72" stroke="#003366" stroke-width="1" fill="none"/>
<path d="M99.75 194.47L104.75 194.47M102.25 191.97L102.25 196.97" stroke="#003366" stroke-width="1" fill="none"/>
<path d="M127.25 181.48L132.25 181.48M129.75 178.98L129.75 183.98" stroke="#003366" stroke-width="1" fill="none"/>
<path d="M154.75 149.36L159.75 149.36M157.25 146.86L157.25 151.86" stroke="#003366" stroke-width="1" fill="none"/>
<path d="M182.25 107.92L187.25 107.92M184.75 105.42L184.75 110.42" stroke="#003366" stroke-width="1" fill="none"/>
<path d="M209.75 110.87L214.75 110.87M212.25 108.37L212.25 113.37" stroke="#003366" stroke-width="1" fill="none"/>
<path d="M237.25 116.72L242.25 116.72M239.75 114.22L239.75 119.22" stroke="#003366" stroke-width="1" fill="none"/>
<path d="M264.75 94.78L269.75 94.78M267.25 92.28L267.25 97.28" stroke="#003366" stroke-width="1" fill="none"/>
<path d="M292.25 171.85L297.25 171.85M294.75 169.35L294.75 174.35" stroke="#003366" stroke-width="1" fill="none"/>
<path d="M319.75 202.46L324.75 202.46M322.25 199.96L322.25 204.96" stroke="#003366" stroke-width="1" fill="none"/>
<path d="M347.25 207.97L352.25 207.97M349.75 205.47L349.75 210.47" stroke="#003366" stroke-width="1" fill="none"/>
<polyline points="47.25,199.29 74.75,203.77 102.25,185.32 129.75,181.36 157.25,136.30 184.75,104.75 212.25,77.83 239.75,39.72 267.25,99.61 294.75,153.20 322.25,204.35 349.75,206.72" fill="none" stroke="#339966" stroke-width="1" stroke-linejoin="miter"/>
<rect x="45.75" y="197.99" width="3" height="1.3" fill="#339966"/>
<rect x="73.25" y="202.47" width="3" height="1.3" fill="#339966"/>
<rect x="100.75" y="184.02" width="3" height="1.3" fill="#339966"/>
<rect x="128.25" y="180.06" width="3" height="1.3" fill="#339966"/>
<rect x="155.75" y="135.00" width="3" height="1.3" fill="#339966"/>
<rect x="183.25" y="103.45" width="3" height="1.3" fill="#339966"/>
<rect x="210.75" y="76.53" width="3" height="1.3" fill="#339966"/>
<rect x="238.25" y="38.42" width="3" height="1.3" fill="#339966"/>
<rect x="265.75" y="98.31" width="3" height="1.3" fill="#339966"/>
<rect x="293.25" y="151.90" width="3" height="1.3" fill="#339966"/>
<rect x="320.75" y="203.05" width="3" height="1.3" fill="#339966"/>
<rect x="348.25" y="205.42" width="3" height="1.3" fill="#339966"/>
<polyline points="47.25,204.23 74.75,199.19 102.25,184.72 129.75,167.43 157.25,153.91 184.75,93.12 212.25,66.45 239.75,80.63 267.25,110.09 294.75,172.87 322.25,202.07 349.75,206.54" fill="none" stroke="#003300" stroke-width="1" stroke-linejoin="miter"/>
<rect x="44.75" y="202.93" width="5" height="1.3" fill="#003300"/>
<rect x="72.25" y="197.89" width="5" height="1.3" fill="#003300"/>
<rect x="99.75" y="183.42" width="5" height="1.3" fill="#003300"/>
<rect x="127.25" y="166.13" width="5" height="1.3" fill="#003300"/>
<rect x="154.75" y="152.61" width="5" height="1.3" fill="#003300"/>
<rect x="182.25" y="91.82" width="5" height="1.3" fill="#003300"/>
<rect x="209.75" y="65.15" width="5" height="1.3" fill="#003300"/>
<rect x="237.25" y="79.33" width="5" height="1.3" fill="#003300"/>
<rect x="264.75" y="108.79" width="5" height="1.3" fill="#003300"/>
<rect x="292.25" y="171.57" width="5" height="1.3" fill="#003300"/>
<rect x="319.75" y="200.77" width="5" height="1.3" fill="#003300"/>
<rect x="347.25" y="205.24" width="5" height="1.3" fill="#003300"/>
<polyline points="47.25,202.83 74.75,199.81 102.25,185.09 129.75,180.48 157.25,154.17 184.75,90.76 212.25,110.65 239.75,106.01 267.25,115.08 294.75,173.91 322.25,205.00 349.75,205.76" fill="none" stroke="#333300" stroke-width="1" stroke-linejoin="miter"/>
<path d="M47.25 200.43L49.65 202.83L47.25 205.23L44.85 202.83Z" fill="#333300"/>
<path d="M74.75 197.41L77.15 199.81L74.75 202.21L72.35 199.81Z" fill="#333300"/>
<path d="M102.25 182.69L104.65 185.09L102.25 187.49L99.85 185.09Z" fill="#333300"/>
<path d="M129.75 178.08L132.15 180.48L129.75 182.88L127.35 180.48Z" fill="#333300"/>
<path d="M157.25 151.77L159.65 154.17L157.25 156.57L154.85 154.17Z" fill="#333300"/>
<path d="M184.75 88.36L187.15 90.76L184.75 93.16L182.35 90.76Z" fill="#333300"/>
<path d="M212.25 108.25L214.65 110.65L212.25 113.05L209.85 110.65Z" fill="#333300"/>
<path d="M239.75 103.61L242.15 106.01L239.75 108.41L237.35 106.01Z" fill="#333300"/>
<path d="M267.25 112.68L269.65 115.08L267.25 117.48L264.85 115.08Z" fill="#333300"/>
<path d="M294.75 171.51L297.15 173.91L294.75 176.31L292.35 173.91Z" fill="#333300"/>
<path d="M322.25 202.60L324.65 205.00L322.25 207.40L319.85 205.00Z" fill="#333300"/>
<path d="M349.75 203.36L352.15 205.76L349.75 208.16L347.35 205.76Z" fill="#333300"/>
<polyline points="47.25,201.21 74.75,196.77 102.25,181.84 129.75,167.00 157.25,123.15 184.75,77.83 212.25,22.30 239.75,56.06 267.25,105.06 294.75,154.68 322.25,194.98 349.75,202.39" fill="none" stroke="#993300" stroke-width="1" stroke-linejoin="miter"/>
<rect x="45.25" y="199.21" width="4" height="4" fill="#993300"/>
<rect x="72.75" y="194.77" width="4" height="4" fill="#993300"/>
<rect x="100.25" y="179.84" width="4" height="4" fill="#993300"/>
<rect x="127.75" y="165.00" width="4" height="4" fill="#993300"/>
<rect x="155.25" y="121.15" width="4" height="4" fill="#993300"/>
<rect x="182.75" y="75.83" width="4" height="4" fill="#993300"/>
<rect x="210.25" y="20.30" width="4" height="4" fill="#993300"/>
<rect x="237.75" y="54.06" width="4" height="4" fill="#993300"/>
<rect x="265.25" y="103.06" width="4" height="4" fill="#993300"/>
<rect x="292.75" y="152.68" width="4" height="4" fill="#993300"/>
<rect x="320.25" y="192.98" width="4" height="4" fill="#993300"/>
<rect x="347.75" y="200.39" width="4" height="4" fill="#993300"/>
<polyline points="47.25,202.12 74.75,200.06 102.25,190.11 129.75,173.74 157.25,144.37 184.75,114.60 212.25,107.09 239.75,85.33 267.25,90.44 294.75,158.88 322.25,199.26 349.75,203.65" fill="none" stroke="#993366" stroke-width="1" stroke-linejoin="miter"/>
<path d="M47.25 199.62L49.75 204.12L44.75 204.12Z" fill="#993366"/>
<path d="M74.75 197.56L77.25 202.06L72.25 202.06Z" fill="#993366"/>
<path d="M102.25 187.61L104.75 192.11L99.75 192.11Z" fill="#993366"/>
<path d="M129.75 171.24L132.25 175.74L127.25 175.74Z" fill="#993366"/>
<path d="M157.25 141.87L159.75 146.37L154.75 146.37Z" fill="#993366"/>
<path d="M184.75 112.10L187.25 116.60L182.25 116.60Z" fill="#993366"/>
<path d="M212.25 104.59L214.75 109.09L209.75 109.09Z" fill="#993366"/>
<path d="M239.75 82.83L242.25 87.33L237.25 87.33Z" fill="#993366"/>
<path d="M267.25 87.94L269.75 92.44L264.75 92.44Z" fill="#993366"/>
<path d="M294.75 156.38L297.25 160.88L292.25 160.88Z" fill="#993366"/>
<path d="M322.25 196.76L324.75 201.26L319.75 201.26Z" fill="#993366"/>
<path d="M349.75 201.15L352.25 205.65L347.25 205.65Z" fill="#993366"/>
<polyline points="47.25,199.58 74.75,202.95 102.25,192.32 129.75,183.22 157.25,132.67 184.75,61.50 212.25,77.83 239.75,88.72 267.25,40.81 294.75,154.06 322.25,204.61 349.75,203.48" fill="none" stroke="#333399" stroke-width="1" stroke-linejoin="miter"/>
<path d="M45.25 197.58L49.25 201.58M49.25 197.58L45.25 201.58" stroke="#333399" stroke-width="1.1" fill="none"/>
<path d="M72.75 200.95L76.75 204.95M76.75 200.95L72.75 204.95" stroke="#333399" stroke-width="1.1" fill="none"/>
<path d="M100.25 190.32L104.25 194.32M104.25 190.32L100.25 194.32" stroke="#333399" stroke-width="1.1" fill="none"/>
<path d="M127.75 181.22L131.75 185.22M131.75 181.22L127.75 185.22" stroke="#333399" stroke-width="1.1" fill="none"/>
<path d="M155.25 130.67L159.25 134.67M159.25 130.67L155.25 134.67" stroke="#333399" stroke-width="1.1" fill="none"/>
<path d="M182.75 59.50L186.75 63.50M186.75 59.50L182.75 63.50" stroke="#333399" stroke-width="1.1" fill="none"/>
<path d="M210.25 75.83L214.25 79.83M214.25 75.83L210.25 79.83" stroke="#333399" stroke-width="1.1" fill="none"/>
<path d="M237.75 86.72L241.75 90.72M241.75 86.72L237.75 90.72" stroke="#333399" stroke-width="1.1" fill="none"/>
<path d="M265.25 38.81L269.25 42.81M269.25 38.81L265.25 42.81" stroke="#333399" stroke-width="1.1" fill="none"/>
<path d="M292.75 152.06L296.75 156.06M296.75 152.06L292.75 156.06" stroke="#333399" stroke-width="1.1" fill="none"/>
<path d="M320.25 202.61L324.25 206.61M324.25 202.61L320.25 206.61" stroke="#333399" stroke-width="1.1" fill="none"/>
<path d="M347.75 201.48L351.75 205.48M351.75 201.48L347.75 205.48" stroke="#333399" stroke-width="1.1" fill="none"/>
<polyline points="47.25,201.80 74.75,202.71 102.25,194.11 129.75,156.23 157.25,140.99 184.75,114.70 212.25,112.43 239.75,79.05 267.25,105.00 294.75,147.76 322.25,201.97 349.75,206.30" fill="none" stroke="#333333" stroke-width="1" stroke-linejoin="miter"/>
<path d="M45.25 199.80L49.25 203.80M49.25 199.80L45.25 203.80M47.25 199.50L47.25 204.10" stroke="#333333" stroke-width="1.2" fill="none"/>
<path d="M72.75 200.71L76.75 204.71M76.75 200.71L72.75 204.71M74.75 200.41L74.75 205.01" stroke="#333333" stroke-width="1.2" fill="none"/>
<path d="M100.25 192.11L104.25 196.11M104.25 192.11L100.25 196.11M102.25 191.81L102.25 196.41" stroke="#333333" stroke-width="1.2" fill="none"/>
<path d="M127.75 154.23L131.75 158.23M131.75 154.23L127.75 158.23M129.75 153.93L129.75 158.53" stroke="#333333" stroke-width="1.2" fill="none"/>
<path d="M155.25 138.99L159.25 142.99M159.25 138.99L155.25 142.99M157.25 138.69L157.25 143.29" stroke="#333333" stroke-width="1.2" fill="none"/>
<path d="M182.75 112.70L186.75 116.70M186.75 112.70L182.75 116.70M184.75 112.40L184.75 117.00" stroke="#333333" stroke-width="1.2" fill="none"/>
<path d="M210.25 110.43L214.25 114.43M214.25 110.43L210.25 114.43M212.25 110.13L212.25 114.73" stroke="#333333" stroke-width="1.2" fill="none"/>
<path d="M237.75 77.05L241.75 81.05M241.75 77.05L237.75 81.05M239.75 76.75L239.75 81.35" stroke="#333333" stroke-width="1.2" fill="none"/>
<path d="M265.25 103.00L269.25 107.00M269.25 103.00L265.25 107.00M267.25 102.70L267.25 107.30" stroke="#333333" stroke-width="1.2" fill="none"/>
<path d="M292.75 145.76L296.75 149.76M296.75 145.76L292.75 149.76M294.75 145.46L294.75 150.06" stroke="#333333" stroke-width="1.2" fill="none"/>
<path d="M320.25 199.97L324.25 203.97M324.25 199.97L320.25 203.97M322.25 199.67L322.25 204.27" stroke="#333333" stroke-width="1.2" fill="none"/>
<path d="M347.75 204.30L351.75 208.30M351.75 204.30L347.75 208.30M349.75 204.00L349.75 208.60" stroke="#333333" stroke-width="1.2" fill="none"/>
<polyline points="47.25,196.12 74.75,198.66 102.25,188.17 129.75,173.93 157.25,148.62 184.75,99.73 212.25,99.15 239.75,114.06 267.25,94.85 294.75,161.24 322.25,201.53 349.75,206.50" fill="none" stroke="#000000" stroke-width="1" stroke-linejoin="miter"/>
<circle cx="47.25" cy="196.12" r="2.2" fill="#000000"/>
<circle cx="74.75" cy="198.66" r="2.2" fill="#000000"/>
<circle cx="102.25" cy="188.17" r="2.2" fill="#000000"/>
<circle cx="129.75" cy="173.93" r="2.2" fill="#000000"/>
<circle cx="157.25" cy="148.62" r="2.2" fill="#000000"/>
<circle cx="184.75" cy="99.73" r="2.2" fill="#000000"/>
<circle cx="212.25" cy="99.15" r="2.2" fill="#000000"/>
<circle cx="239.75" cy="114.06" r="2.2" fill="#000000"/>
<circle cx="267.25" cy="94.85" r="2.2" fill="#000000"/>
<circle cx="294.75" cy="161.24" r="2.2" fill="#000000"/>
<circle cx="322.25" cy="201.53" r="2.2" fill="#000000"/>
<circle cx="349.75" cy="206.50" r="2.2" fill="#000000"/>
<polyline points="47.25,202.74 74.75,202.22 102.25,199.99 129.75,183.61 157.25,157.00 184.75,88.72 212.25,29.92 239.75,94.17 267.25,121.39 294.75,175.13 322.25,206.32 349.75,206.92" fill="none" stroke="#FF0000" stroke-width="1" stroke-linejoin="miter"/>
<path d="M44.75 202.74L49.75 202.74M47.25 200.24L47.25 205.24" stroke="#FF0000" stroke-width="1" fill="none"/>
<path d="M72.25 202.22L77.25 202.22M74.75 199.72L74.75 204.72" stroke="#FF0000" stroke-width="1" fill="none"/>
<path d="M99.75 199.99L104.75 199.99M102.25 197.49L102.25 202.49" stroke="#FF0000" stroke-width="1" fill="none"/>
<path d="M127.25 183.61L132.25 183.61M129.75 181.11L129.75 186.11" stroke="#FF0000" stroke-width="1" fill="none"/>
<path d="M154.75 157.00L159.75 157.00M157.25 154.50L157.25 159.50" stroke="#FF0000" stroke-width="1" fill="none"/>
<path d="M182.25 88.72L187.25 88.72M184.75 86.22L184.75 91.22" stroke="#FF0000" stroke-width="1" fill="none"/>
<path d="M209.75 29.92L214.75 29.92M212.25 27.42L212.25 32.42" stroke="#FF0000" stroke-width="1" fill="none"/>
<path d="M237.25 94.17L242.25 94.17M239.75 91.67L239.75 96.67" stroke="#FF0000" stroke-width="1" fill="none"/>
<path d="M264.75 121.39L269.75 121.39M267.25 118.89L267.25 123.89" stroke="#FF0000" stroke-width="1" fill="none"/>
<path d="M292.25 175.13L297.25 175.13M294.75 172.63L294.75 177.63" stroke="#FF0000" stroke-width="1" fill="none"/>
<path d="M319.75 206.32L324.75 206.32M322.25 203.82L322.25 208.82" stroke="#FF0000" stroke-width="1" fill="none"/>
<path d="M347.25 206.92L352.25 206.92M349.75 204.42L349.75 209.42" stroke="#FF0000" stroke-width="1" fill="none"/>
<polyline points="47.25,203.23 74.75,198.45 102.25,188.51 129.75,167.56 157.25,157.62 184.75,82.19 212.25,97.87 239.75,76.98 267.25,75.66 294.75,183.36 322.25,201.16 349.75,206.25" fill="none" stroke="#00FF00" stroke-width="1" stroke-linejoin="miter"/>
<rect x="45.75" y="201.93" width="3" height="1.3" fill="#00FF00"/>
<rect x="73.25" y="197.15" width="3" height="1.3" fill="#00FF00"/>
<rect x="100.75" y="187.21" width="3" height="1.3" fill="#00FF00"/>
<rect x="128.25" y="166.26" width="3" height="1.3" fill="#00FF00"/>
<rect x="155.75" y="156.32" width="3" height="1.3" fill="#00FF00"/>
<rect x="183.25" y="80.89" width="3" height="1.3" fill="#00FF00"/>
<rect x="210.75" y="96.57" width="3" height="1.3" fill="#00FF00"/>
<rect x="238.25" y="75.68" width="3" height="1.3" fill="#00FF00"/>
<rect x="265.75" y="74.36" width="3" height="1.3" fill="#00FF00"/>
<rect x="293.25" y="182.06" width="3" height="1.3" fill="#00FF00"/>
<rect x="320.75" y="199.86" width="3" height="1.3" fill="#00FF00"/>
<rect x="348.25" y="204.95" width="3" height="1.3" fill="#00FF00"/>
<polyline points="47.25,203.94 74.75,197.90 102.25,189.65 129.75,175.96 157.25,142.21 184.75,120.88 212.25,79.08 239.75,67.27 267.25,105.08 294.75,175.87 322.25,199.88 349.75,203.16" fill="none" stroke="#0000FF" stroke-width="1" stroke-linejoin="miter"/>
<rect x="44.75" y="202.64" width="5" height="1.3" fill="#0000FF"/>
<rect x="72.25" y="196.60" width="5" height="1.3" fill="#0000FF"/>
<rect x="99.75" y="188.35" width="5" height="1.3" fill="#0000FF"/>
<rect x="127.25" y="174.66" width="5" height="1.3" fill="#0000FF"/>
<rect x="154.75" y="140.91" width="5" height="1.3" fill="#0000FF"/>
<rect x="182.25" y="119.58" width="5" height="1.3" fill="#0000FF"/>
<rect x="209.75" y="77.78" width="5" height="1.3" fill="#0000FF"/>
<rect x="237.25" y="65.97" width="5" height="1.3" fill="#0000FF"/>
<rect x="264.75" y="103.78" width="5" height="1.3" fill="#0000FF"/>
<rect x="292.25" y="174.57" width="5" height="1.3" fill="#0000FF"/>
<rect x="319.75" y="198.58" width="5" height="1.3" fill="#0000FF"/>
<rect x="347.25" y="201.86" width="5" height="1.3" fill="#0000FF"/>
<polyline points="47.25,202.21 74.75,194.74 102.25,197.49 129.75,182.52 157.25,160.59 184.75,125.74 212.25,99.61 239.75,111.92 267.25,124.43 294.75,151.36 322.25,202.76 349.75,205.51" fill="none" stroke="#FFFF00" stroke-width="1" stroke-linejoin="miter"/>
<path d="M47.25 199.81L49.65 202.21L47.25 204.61L44.85 202.21Z" fill="#FFFF00"/>
<path d="M74.75 192.34L77.15 194.74L74.75 197.14L72.35 194.74Z" fill="#FFFF00"/>
<path d="M102.25 195.09L104.65 197.49L102.25 199.89L99.85 197.49Z" fill="#FFFF00"/>
<path d="M129.75 180.12L132.15 182.52L129.75 184.92L127.35 182.52Z" fill="#FFFF00"/>
<path d="M157.25 158.19L159.65 160.59L157.25 162.99L154.85 160.59Z" fill="#FFFF00"/>
<path d="M184.75 123.34L187.15 125.74L184.75 128.14L182.35 125.74Z" fill="#FFFF00"/>
<path d="M212.25 97.21L214.65 99.61L212.25 102.01L209.85 99.61Z" fill="#FFFF00"/>
<path d="M239.75 109.52L242.15 111.92L239.75 114.32L237.35 111.92Z" fill="#FFFF00"/>
<path d="M267.25 122.03L269.65 124.43L267.25 126.83L264.85 124.43Z" fill="#FFFF00"/>
<path d="M294.75 148.96L297.15 151.36L294.75 153.76L292.35 151.36Z" fill="#FFFF00"/>
<path d="M322.25 200.36L324.65 202.76L322.25 205.16L319.85 202.76Z" fill="#FFFF00"/>
<path d="M349.75 203.11L352.15 205.51L349.75 207.91L347.35 205.51Z" fill="#FFFF00"/>
<polyline points="47.25,199.31 74.75,202.52 102.25,184.54 129.75,178.97 157.25,117.05 184.75,108.26 212.25,87.38 239.75,108.64 267.25,94.90 294.75,171.47 322.25,199.33 349.75,204.26" fill="none" stroke="#FF00FF" stroke-width="1" stroke-linejoin="miter"/>
<rect x="45.25" y="197.31" width="4" height="4" fill="#FF00FF"/>
<rect x="72.75" y="200.52" width="4" height="4" fill="#FF00FF"/>
<rect x="100.25" y="182.54" width="4" height="4" fill="#FF00FF"/>
<rect x="127.75" y="176.97" width="4" height="4" fill="#FF00FF"/>
<rect x="155.25" y="115.05" width="4" height="4" fill="#FF00FF"/>
<rect x="182.75" y="106.26" width="4" height="4" fill="#FF00FF"/>
<rect x="210.25" y="85.38" width="4" height="4" fill="#FF00FF"/>
<rect x="237.75" y="106.64" width="4" height="4" fill="#FF00FF"/>
<rect x="265.25" y="92.90" width="4" height="4" fill="#FF00FF"/>
<rect x="292.75" y="169.47" width="4" height="4" fill="#FF00FF"/>
<rect x="320.25" y="197.33" width="4" height="4" fill="#FF00FF"/>
<rect x="347.75" y="202.26" width="4" height="4" fill="#FF00FF"/>
<polyline points="47.25,199.41 74.75,196.68 102.25,192.08 129.75,185.27 157.25,152.52 184.75,101.25 212.25,66.39 239.75,107.45 267.25,129.35 294.75,178.32 322.25,205.44 349.75,207.03" fill="none" stroke="#00FFFF" stroke-width="1" stroke-linejoin="miter"/>
<path d="M47.25 196.91L49.75 201.41L44.75 201.41Z" fill="#00FFFF"/>
<path d="M74.75 194.18L77.25 198.68L72.25 198.68Z" fill="#00FFFF"/>
<path d="M102.25 189.58L104.75 194.08L99.75 194.08Z" fill="#00FFFF"/>
<path d="M129.75 182.77L132.25 187.27L127.25 187.27Z" fill="#00FFFF"/>
<path d="M157.25 150.02L159.75 154.52L154.75 154.52Z" fill="#00FFFF"/>
<path d="M184.75 98.75L187.25 103.25L182.25 103.25Z" fill="#00FFFF"/>
<path d="M212.25 63.89L214.75 68.39L209.75 68.39Z" fill="#00FFFF"/>
<path d="M239.75 104.95L242.25 109.45L237.25 109.45Z" fill="#00FFFF"/>
<path d="M267.25 126.85L269.75 131.35L264.75 131.35Z" fill="#00FFFF"/>
<path d="M294.75 175.82L297.25 180.32L292.25 180.32Z" fill="#00FFFF"/>
<path d="M322.25 202.94L324.75 207.44L319.75 207.44Z" fill="#00FFFF"/>
<path d="M349.75 204.53L352.25 209.03L347.25 209.03Z" fill="#00FFFF"/>
<polyline points="47.25,196.98 74.75,199.05 102.25,194.50 129.75,187.09 157.25,138.43 184.75,103.36 212.25,112.37 239.75,113.58 267.25,112.84 294.75,158.47 322.25,199.95 349.75,204.94" fill="none" stroke="#800000" stroke-width="1" stroke-linejoin="miter"/>
<path d="M45.25 194.98L49.25 198.98M49.25 194.98L45.25 198.98" stroke="#800000" stroke-width="1.1" fill="none"/>
<path d="M72.75 197.05L76.75 201.05M76.75 197.05L72.75 201.05" stroke="#800000" stroke-width="1.1" fill="none"/>
<path d="M100.25 192.50L104.25 196.50M104.25 192.50L100.25 196.50" stroke="#800000" stroke-width="1.1" fill="none"/>
<path d="M127.75 185.09L131.75 189.09M131.75 185.09L127.75 189.09" stroke="#800000" stroke-width="1.1" fill="none"/>
<path d="M155.25 136.43L159.25 140.43M159.25 136.43L155.25 140.43" stroke="#800000" stroke-width="1.1" fill="none"/>
<path d="M182.75 101.36L186.75 105.36M186.75 101.36L182.75 105.36" stroke="#800000" stroke-width="1.1" fill="none"/>
<path d="M210.25 110.37L214.25 114.37M214.25 110.37L210.25 114.37" stroke="#800000" stroke-width="1.1" fill="none"/>
<path d="M237.75 111.58L241.75 115.58M241.75 111.58L237.75 115.58" stroke="#800000" stroke-width="1.1" fill="none"/>
<path d="M265.25 110.84L269.25 114.84M269.25 110.84L265.25 114.84" stroke="#800000" stroke-width="1.1" fill="none"/>
<path d="M292.75 156.47L296.75 160.47M296.75 156.47L292.75 160.47" stroke="#800000" stroke-width="1.1" fill="none"/>
<path d="M320.25 197.95L324.25 201.95M324.25 197.95L320.25 201.95" stroke="#800000" stroke-width="1.1" fill="none"/>
<path d="M347.75 202.94L351.75 206.94M351.75 202.94L347.75 206.94" stroke="#800000" stroke-width="1.1" fill="none"/>
<polyline points="47.25,201.20 74.75,199.30 102.25,181.51 129.75,185.79 157.25,144.95 184.75,88.62 212.25,97.83 239.75,81.97 267.25,113.74 294.75,168.98 322.25,203.42 349.75,207.38" fill="none" stroke="#008000" stroke-width="1" stroke-linejoin="miter"/>
<path d="M45.25 199.20L49.25 203.20M49.25 199.20L45.25 203.20M47.25 198.90L47.25 203.50" stroke="#008000" stroke-width="1.2" fill="none"/>
<path d="M72.75 197.30L76.75 201.30M76.75 197.30L72.75 201.30M74.75 197.00L74.75 201.60" stroke="#008000" stroke-width="1.2" fill="none"/>
<path d="M100.25 179.51L104.25 183.51M104.25 179.51L100.25 183.51M102.25 179.21L102.25 183.81" stroke="#008000" stroke-width="1.2" fill="none"/>
<path d="M127.75 183.79L131.75 187.79M131.75 183.79L127.75 187.79M129.75 183.49L129.75 188.09" stroke="#008000" stroke-width="1.2" fill="none"/>
<path d="M155.25 142.95L159.25 146.95M159.25 142.95L155.25 146.95M157.25 142.65L157.25 147.25" stroke="#008000" stroke-width="1.2" fill="none"/>
<path d="M182.75 86.62L186.75 90.62M186.75 86.62L182.75 90.62M184.75 86.32L184.75 90.92" stroke="#008000" stroke-width="1.2" fill="none"/>
<path d="M210.25 95.83L214.25 99.83M214.25 95.83L210.25 99.83M212.25 95.53L212.25 100.13" stroke="#008000" stroke-width="1.2" fill="none"/>
<path d="M237.75 79.97L241.75 83.97M241.75 79.97L237.75 83.97M239.75 79.67L239.75 84.27" stroke="#008000" stroke-width="1.2" fill="none"/>
<path d="M265.25 111.74L269.25 115.74M269.25 111.74L265.25 115.74M267.25 111.44L267.25 116.04" stroke="#008000" stroke-width="1.2" fill="none"/>
<path d="M292.75 166.98L296.75 170.98M296.75 166.98L292.75 170.98M294.75 166.68L294.75 171.28" stroke="#008000" stroke-width="1.2" fill="none"/>
<path d="M320.25 201.42L324.25 205.42M324.25 201.42L320.25 205.42M322.25 201.12L322.25 205.72" stroke="#008000" stroke-width="1.2" fill="none"/>
<path d="M347.75 205.38L351.75 209.38M351.75 205.38L347.75 209.38M349.75 205.08L349.75 209.68" stroke="#008000" stroke-width="1.2" fill="none"/>
<polyline points="47.25,195.49 74.75,197.83 102.25,189.58 129.75,173.68 157.25,137.65 184.75,77.83 212.25,40.81 239.75,88.72 267.25,99.63 294.75,176.39 322.25,206.05 349.75,206.09" fill="none" stroke="#000080" stroke-width="1" stroke-linejoin="miter"/>
<circle cx="47.25" cy="195.49" r="2.2" fill="#000080"/>
<circle cx="74.75" cy="197.83" r="2.2" fill="#000080"/>
<circle cx="102.25" cy="189.58" r="2.2" fill="#000080"/>
<circle cx="129.75" cy="173.68" r="2.2" fill="#000080"/>
<circle cx="157.25" cy="137.65" r="2.2" fill="#000080"/>
<circle cx="184.75" cy="77.83" r="2.2" fill="#000080"/>
<circle cx="212.25" cy="40.81" r="2.2" fill="#000080"/>
<circle cx="239.75" cy="88.72" r="2.2" fill="#000080"/>
<circle cx="267.25" cy="99.63" r="2.2" fill="#000080"/>
<circle cx="294.75" cy="176.39" r="2.2" fill="#000080"/>
<circle cx="322.25" cy="206.05" r="2.2" fill="#000080"/>
<circle cx="349.75" cy="206.09" r="2.2" fill="#000080"/>
<polyline points="47.25,200.43 74.75,202.52 102.25,197.81 129.75,181.93 157.25,125.09 184.75,105.57 212.25,91.64 239.75,101.95 267.25,108.77 294.75,161.03 322.25,197.49 349.75,207.75" fill="none" stroke="#808000" stroke-width="1" stroke-linejoin="miter"/>
<path d="M44.75 200.43L49.75 200.43M47.25 197.93L47.25 202.93" stroke="#808000" stroke-width="1" fill="none"/>
<path d="M72.25 202.52L77.25 202.52M74.75 200.02L74.75 205.02" stroke="#808000" stroke-width="1" fill="none"/>
<path d="M99.75 197.81L104.75 197.81M102.25 195.31L102.25 200.31" stroke="#808000" stroke-width="1" fill="none"/>
<path d="M127.25 181.93L132.25 181.93M129.75 179.43L129.75 184.43" stroke="#808000" stroke-width="1" fill="none"/>
<path d="M154.75 125.09L159.75 125.09M157.25 122.59L157.25 127.59" stroke="#808000" stroke-width="1" fill="none"/>
<path d="M182.25 105.57L187.25 105.57M184.75 103.07L184.75 108.07" stroke="#808000" stroke-width="1" fill="none"/>
<path d="M209.75 91.64L214.75 91.64M212.25 89.14L212.25 94.14" stroke="#808000" stroke-width="1" fill="none"/>
<path d="M237.25 101.95L242.25 101.95M239.75 99.45L239.75 104.45" stroke="#808000" stroke-width="1" fill="none"/>
<path d="M264.75 108.77L269.75 108.77M267.25 106.27L267.25 111.27" stroke="#808000" stroke-width="1" fill="none"/>
<path d="M292.25 161.03L297.25 161.03M294.75 158.53L294.75 163.53" stroke="#808000" stroke-width="1" fill="none"/>
<path d="M319.75 197.49L324.75 197.49M322.25 194.99L322.25 199.99" stroke="#808000" stroke-width="1" fill="none"/>
<path d="M347.25 207.75L352.25 207.75M349.75 205.25L349.75 210.25" stroke="#808000" stroke-width="1" fill="none"/>
<polyline points="47.25,200.12 74.75,198.15 102.25,180.54 129.75,175.50 157.25,117.05 184.75,59.32 212.25,72.39 239.75,85.57 267.25,89.82 294.75,164.77 322.25,206.25 349.75,204.87" fill="none" stroke="#800080" stroke-width="1" stroke-linejoin="miter"/>
<rect x="45.75" y="198.82" width="3" height="1.3" fill="#800080"/>
<rect x="73.25" y="196.85" width="3" height="1.3" fill="#800080"/>
<rect x="100.75" y="179.24" width="3" height="1.3" fill="#800080"/>
<rect x="128.25" y="174.20" width="3" height="1.3" fill="#800080"/>
<rect x="155.75" y="115.75" width="3" height="1.3" fill="#800080"/>
<rect x="183.25" y="58.02" width="3" height="1.3" fill="#800080"/>
<rect x="210.75" y="71.09" width="3" height="1.3" fill="#800080"/>
<rect x="238.25" y="84.27" width="3" height="1.3" fill="#800080"/>
<rect x="265.75" y="88.52" width="3" height="1.3" fill="#800080"/>
<rect x="293.25" y="163.47" width="3" height="1.3" fill="#800080"/>
<rect x="320.75" y="204.95" width="3" height="1.3" fill="#800080"/>
<rect x="348.25" y="203.57" width="3" height="1.3" fill="#800080"/>
<polyline points="47.25,205.16 74.75,193.84 102.25,192.98 129.75,181.46 157.25,143.79 184.75,113.91 212.25,105.37 239.75,99.26 267.25,106.08 294.75,175.21 322.25,202.46 349.75,207.34" fill="none" stroke="#008080" stroke-width="1" stroke-linejoin="miter"/>
<rect x="44.75" y="203.86" width="5" height="1.3" fill="#008080"/>
<rect x="72.25" y="192.54" width="5" height="1.3" fill="#008080"/>
<rect x="99.75" y="191.68" width="5" height="1.3" fill="#008080"/>
<rect x="127.25" y="180.16" width="5" height="1.3" fill="#008080"/>
<rect x="154.75" y="142.49" width="5" height="1.3" fill="#008080"/>
<rect x="182.25" y="112.61" width="5" height="1.3" fill="#008080"/>
<rect x="209.75" y="104.07" width="5" height="1.3" fill="#008080"/>
<rect x="237.25" y="97.96" width="5" height="1.3" fill="#008080"/>
<rect x="264.75" y="104.78" width="5" height="1.3" fill="#008080"/>
<rect x="292.25" y="173.91" width="5" height="1.3" fill="#008080"/>
<rect x="319.75" y="201.16" width="5" height="1.3" fill="#008080"/>
<rect x="347.25" y="206.04" width="5" height="1.3" fill="#008080"/>
<polyline points="47.25,203.60 74.75,197.48 102.25,195.15 129.75,180.45 157.25,135.63 184.75,116.19 212.25,65.32 239.75,97.23 267.25,108.30 294.75,174.87 322.25,195.67 349.75,201.86" fill="none" stroke="#C0C0C0" stroke-width="1" stroke-linejoin="miter"/>
<path d="M47.25 201.20L49.65 203.60L47.25 206.00L44.85 203.60Z" fill="#C0C0C0"/>
<path d="M74.75 195.08L77.15 197.48L74.75 199.88L72.35 197.48Z" fill="#C0C0C0"/>
<path d="M102.25 192.75L104.65 195.15L102.25 197.55L99.85 195.15Z" fill="#C0C0C0"/>
<path d="M129.75 178.05L132.15 180.45L129.75 182.85L127.35 180.45Z" fill="#C0C0C0"/>
<path d="M157.25 133.23L159.65 135.63L157.25 138.03L154.85 135.63Z" fill="#C0C0C0"/>
<path d="M184.75 113.79L187.15 116.19L184.75 118.59L182.35 116.19Z" fill="#C0C0C0"/>
<path d="M212.25 62.92L214.65 65.32L212.25 67.72L209.85 65.32Z" fill="#C0C0C0"/>
<path d="M239.75 94.83L242.15 97.23L239.75 99.63L237.35 97.23Z" fill="#C0C0C0"/>
<path d="M267.25 105.90L269.65 108.30L267.25 110.70L264.85 108.30Z" fill="#C0C0C0"/>
<path d="M294.75 172.47L297.15 174.87L294.75 177.27L292.35 174.87Z" fill="#C0C0C0"/>
<path d="M322.25 193.27L324.65 195.67L322.25 198.07L319.85 195.67Z" fill="#C0C0C0"/>
<path d="M349.75 199.46L352.15 201.86L349.75 204.26L347.35 201.86Z" fill="#C0C0C0"/>
<polyline points="47.25,205.32 74.75,200.47 102.25,186.95 129.75,181.02 157.25,150.68 184.75,116.93 212.25,102.31 239.75,97.71 267.25,120.78 294.75,167.72 322.25,194.33 349.75,201.23" fill="none" stroke="#808080" stroke-width="1" stroke-linejoin="miter"/>
<rect x="45.25" y="203.32" width="4" height="4" fill="#808080"/>
<rect x="72.75" y="198.47" width="4" height="4" fill="#808080"/>
<rect x="100.25" y="184.95" width="4" height="4" fill="#808080"/>
<rect x="127.75" y="179.02" width="4" height="4" fill="#808080"/>
<rect x="155.25" y="148.68" width="4" height="4" fill="#808080"/>
<rect x="182.75" y="114.93" width="4" height="4" fill="#808080"/>
<rect x="210.25" y="100.31" width="4" height="4" fill="#808080"/>
<rect x="237.75" y="95.71" width="4" height="4" fill="#808080"/>
<rect x="265.25" y="118.78" width="4" height="4" fill="#808080"/>
<rect x="292.75" y="165.72" width="4" height="4" fill="#808080"/>
<rect x="320.25" y="192.33" width="4" height="4" fill="#808080"/>
<rect x="347.75" y="199.23" width="4" height="4" fill="#808080"/>
<polyline points="47.25,202.09 74.75,200.04 102.25,194.15 129.75,173.26 157.25,147.03 184.75,111.90 212.25,103.75 239.75,132.28 267.25,95.01 294.75,164.59 322.25,206.11 349.75,206.42" fill="none" stroke="#9999FF" stroke-width="1" stroke-linejoin="miter"/>
<path d="M47.25 199.59L49.75 204.09L44.75 204.09Z" fill="#9999FF"/>
<path d="M74.75 197.54L77.25 202.04L72.25 202.04Z" fill="#9999FF"/>
<path d="M102.25 191.65L104.75 196.15L99.75 196.15Z" fill="#9999FF"/>
<path d="M129.75 170.76L132.25 175.26L127.25 175.26Z" fill="#9999FF"/>
<path d="M157.25 144.53L159.75 149.03L154.75 149.03Z" fill="#9999FF"/>
<path d="M184.75 109.40L187.25 113.90L182.25 113.90Z" fill="#9999FF"/>
<path d="M212.25 101.25L214.75 105.75L209.75 105.75Z" fill="#9999FF"/>
<path d="M239.75 129.78L242.25 134.28L237.25 134.28Z" fill="#9999FF"/>
<path d="M267.25 92.51L269.75 97.01L264.75 97.01Z" fill="#9999FF"/>
<path d="M294.75 162.09L297.25 166.59L292.25 166.59Z" fill="#9999FF"/>
<path d="M322.25 203.61L324.75 208.11L319.75 208.11Z" fill="#9999FF"/>
<path d="M349.75 203.92L352.25 208.42L347.25 208.42Z" fill="#9999FF"/>
<polyline points="47.25,200.05 74.75,199.02 102.25,187.61 129.75,180.69 157.25,156.88 184.75,99.88 212.25,92.13 239.75,96.36 267.25,137.17 294.75,171.57 322.25,204.71 349.75,206.70" fill="none" stroke="#993366" stroke-width="1" stroke-linejoin="miter"/>
<path d="M45.25 198.05L49.25 202.05M49.25 198.05L45.25 202.05" stroke="#993366" stroke-width="1.1" fill="none"/>
<path d="M72.75 197.02L76.75 201.02M76.75 197.02L72.75 201.02" stroke="#993366" stroke-width="1.1" fill="none"/>
<path d="M100.25 185.61L104.25 189.61M104.25 185.61L100.25 189.61" stroke="#993366" stroke-width="1.1" fill="none"/>
<path d="M127.75 178.69L131.75 182.69M131.75 178.69L127.75 182.69" stroke="#993366" stroke-width="1.1" fill="none"/>
<path d="M155.25 154.88L159.25 158.88M159.25 154.88L155.25 158.88" stroke="#993366" stroke-width="1.1" fill="none"/>
<path d="M182.75 97.88L186.75 101.88M186.75 97.88L182.75 101.88" stroke="#993366" stroke-width="1.1" fill="none"/>
<path d="M210.25 90.13L214.25 94.13M214.25 90.13L210.25 94.13" stroke="#993366" stroke-width="1.1" fill="none"/>
<path d="M237.75 94.36L241.75 98.36M241.75 94.36L237.75 98.36" stroke="#993366" stroke-width="1.1" fill="none"/>
<path d="M265.25 135.17L269.25 139.17M269.25 135.17L265.25 139.17" stroke="#993366" stroke-width="1.1" fill="none"/>
<path d="M292.75 169.57L296.75 173.57M296.75 169.57L292.75 173.57" stroke="#993366" stroke-width="1.1" fill="none"/>
<path d="M320.25 202.71L324.25 206.71M324.25 202.71L320.25 206.71" stroke="#993366" stroke-width="1.1" fill="none"/>
<path d="M347.75 204.70L351.75 208.70M351.75 204.70L347.75 208.70" stroke="#993366" stroke-width="1.1" fill="none"/>
<polyline points="47.25,200.18 74.75,201.93 102.25,198.81 129.75,187.96 157.25,144.54 184.75,87.63 212.25,89.75 239.75,120.17 267.25,124.01 294.75,162.82 322.25,195.63 349.75,202.35" fill="none" stroke="#FFFFCC" stroke-width="1" stroke-linejoin="miter"/>
<path d="M45.25 198.18L49.25 202.18M49.25 198.18L45.25 202.18M47.25 197.88L47.25 202.48" stroke="#FFFFCC" stroke-width="1.2" fill="none"/>
<path d="M72.75 199.93L76.75 203.93M76.75 199.93L72.75 203.93M74.75 199.63L74.75 204.23" stroke="#FFFFCC" stroke-width="1.2" fill="none"/>
<path d="M100.25 196.81L104.25 200.81M104.25 196.81L100.25 200.81M102.25 196.51L102.25 201.11" stroke="#FFFFCC" stroke-width="1.2" fill="none"/>
<path d="M127.75 185.96L131.75 189.96M131.75 185.96L127.75 189.96M129.75 185.66L129.75 190.26" stroke="#FFFFCC" stroke-width="1.2" fill="none"/>
<path d="M155.25 142.54L159.25 146.54M159.25 142.54L155.25 146.54M157.25 142.24L157.25 146.84" stroke="#FFFFCC" stroke-width="1.2" fill="none"/>
<path d="M182.75 85.63L186.75 89.63M186.75 85.63L182.75 89.63M184.75 85.33L184.75 89.93" stroke="#FFFFCC" stroke-width="1.2" fill="none"/>
<path d="M210.25 87.75L214.25 91.75M214.25 87.75L210.25 91.75M212.25 87.45L212.25 92.05" stroke="#FFFFCC" stroke-width="1.2" fill="none"/>
<path d="M237.75 118.17L241.75 122.17M241.75 118.17L237.75 122.17M239.75 117.87L239.75 122.47" stroke="#FFFFCC" stroke-width="1.2" fill="none"/>
<path d="M265.25 122.01L269.25 126.01M269.25 122.01L265.25 126.01M267.25 121.71L267.25 126.31" stroke="#FFFFCC" stroke-width="1.2" fill="none"/>
<path d="M292.75 160.82L296.75 164.82M296.75 160.82L292.75 164.82M294.75 160.52L294.75 165.12" stroke="#FFFFCC" stroke-width="1.2" fill="none"/>
<path d="M320.25 193.63L324.25 197.63M324.25 193.63L320.25 197.63M322.25 193.33L322.25 197.93" stroke="#FFFFCC" stroke-width="1.2" fill="none"/>
<path d="M347.75 200.35L351.75 204.35M351.75 200.35L347.75 204.35M349.75 200.05L349.75 204.65" stroke="#FFFFCC" stroke-width="1.2" fill="none"/>
<polyline points="47.25,200.71 74.75,202.53 102.25,192.99 129.75,179.52 157.25,146.36 184.75,99.36 212.25,95.59 239.75,92.60 267.25,86.22 294.75,159.22 322.25,199.94 349.75,205.39" fill="none" stroke="#CCFFFF" stroke-width="1" stroke-linejoin="miter"/>
<circle cx="47.25" cy="200.71" r="2.2" fill="#CCFFFF"/>
<circle cx="74.75" cy="202.53" r="2.2" fill="#CCFFFF"/>
<circle cx="102.25" cy="192.99" r="2.2" fill="#CCFFFF"/>
<circle cx="129.75" cy="179.52" r="2.2" fill="#CCFFFF"/>
<circle cx="157.25" cy="146.36" r="2.2" fill="#CCFFFF"/>
<circle cx="184.75" cy="99.36" r="2.2" fill="#CCFFFF"/>
<circle cx="212.25" cy="95.59" r="2.2" fill="#CCFFFF"/>
<circle cx="239.75" cy="92.60" r="2.2" fill="#CCFFFF"/>
<circle cx="267.25" cy="86.22" r="2.2" fill="#CCFFFF"/>
<circle cx="294.75" cy="159.22" r="2.2" fill="#CCFFFF"/>
<circle cx="322.25" cy="199.94" r="2.2" fill="#CCFFFF"/>
<circle cx="349.75" cy="205.39" r="2.2" fill="#CCFFFF"/>
<polyline points="47.25,203.91 74.75,198.78 102.25,198.78 129.75,173.06 157.25,148.89 184.75,104.67 212.25,106.16 239.75,118.90 267.25,86.84 294.75,183.02 322.25,200.62 349.75,206.91" fill="none" stroke="#660066" stroke-width="1" stroke-linejoin="miter"/>
<path d="M44.75 203.91L49.75 203.91M47.25 201.41L47.25 206.41" stroke="#660066" stroke-width="1" fill="none"/>
<path d="M72.25 198.78L77.25 198.78M74.75 196.28L74.75 201.28" stroke="#660066" stroke-width="1" fill="none"/>
<path d="M99.75 198.78L104.75 198.78M102.25 196.28L102.25 201.28" stroke="#660066" stroke-width="1" fill="none"/>
<path d="M127.25 173.06L132.25 173.06M129.75 170.56L129.75 175.56" stroke="#660066" stroke-width="1" fill="none"/>
<path d="M154.75 148.89L159.75 148.89M157.25 146.39L157.25 151.39" stroke="#660066" stroke-width="1" fill="none"/>
<path d="M182.25 104.67L187.25 104.67M184.75 102.17L184.75 107.17" stroke="#660066" stroke-width="1" fill="none"/>
<path d="M209.75 106.16L214.75 106.16M212.25 103.66L212.25 108.66" stroke="#660066" stroke-width="1" fill="none"/>
<path d="M237.25 118.90L242.25 118.90M239.75 116.40L239.75 121.40" stroke="#660066" stroke-width="1" fill="none"/>
<path d="M264.75 86.84L269.75 86.84M267.25 84.34L267.25 89.34" stroke="#660066" stroke-width="1" fill="none"/>
<path d="M292.25 183.02L297.25 183.02M294.75 180.52L294.75 185.52" stroke="#660066" stroke-width="1" fill="none"/>
<path d="M319.75 200.62L324.75 200.62M322.25 198.12L322.25 203.12" stroke="#660066" stroke-width="1" fill="none"/>
<path d="M347.25 206.91L352.25 206.91M349.75 204.41L349.75 209.41" stroke="#660066" stroke-width="1" fill="none"/>
<polyline points="47.25,203.97 74.75,200.12 102.25,185.38 129.75,163.74 157.25,147.27 184.75,100.41 212.25,75.60 239.75,105.83 267.25,96.66 294.75,176.14 322.25,199.44 349.75,204.04" fill="none" stroke="#FF8080" stroke-width="1" stroke-linejoin="miter"/>
<rect x="45.75" y="202.67" width="3" height="1.3" fill="#FF8080"/>
<rect x="73.25" y="198.82" width="3" height="1.3" fill="#FF8080"/>
<rect x="100.75" y="184.08" width="3" height="1.3" fill="#FF8080"/>
<rect x="128.25" y="162.44" width="3" height="1.3" fill="#FF8080"/>
<rect x="155.75" y="145.97" width="3" height="1.3" fill="#FF8080"/>
<rect x="183.25" y="99.11" width="3" height="1.3" fill="#FF8080"/>
<rect x="210.75" y="74.30" width="3" height="1.3" fill="#FF8080"/>
<rect x="238.25" y="104.53" width="3" height="1.3" fill="#FF8080"/>
<rect x="265.75" y="95.36" width="3" height="1.3" fill="#FF8080"/>
<rect x="293.25" y="174.84" width="3" height="1.3" fill="#FF8080"/>
<rect x="320.75" y="198.14" width="3" height="1.3" fill="#FF8080"/>
<rect x="348.25" y="202.74" width="3" height="1.3" fill="#FF8080"/>
<polyline points="47.25,199.06 74.75,201.87 102.25,184.97 129.75,182.72 157.25,126.62 184.75,83.34 212.25,75.70 239.75,100.90 267.25,85.52 294.75,162.16 322.25,204.21 349.75,205.02" fill="none" stroke="#0066CC" stroke-width="1" stroke-linejoin="miter"/>
<rect x="44.75" y="197.76" width="5" height="1.3" fill="#0066CC"/>
<rect x="72.25" y="200.57" width="5" height="1.3" fill="#0066CC"/>
<rect x="99.75" y="183.67" width="5" height="1.3" fill="#0066CC"/>
<rect x="127.25" y="181.42" width="5" height="1.3" fill="#0066CC"/>
<rect x="154.75" y="125.32" width="5" height="1.3" fill="#0066CC"/>
<rect x="182.25" y="82.04" width="5" height="1.3" fill="#0066CC"/>
<rect x="209.75" y="74.40" width="5" height="1.3" fill="#0066CC"/>
<rect x="237.25" y="99.60" width="5" height="1.3" fill="#0066CC"/>
<rect x="264.75" y="84.22" width="5" height="1.3" fill="#0066CC"/>
<rect x="292.25" y="160.86" width="5" height="1.3" fill="#0066CC"/>
<rect x="319.75" y="202.91" width="5" height="1.3" fill="#0066CC"/>
<rect x="347.25" y="203.72" width="5" height="1.3" fill="#0066CC"/>
<polyline points="47.25,201.13 74.75,196.84 102.25,189.97 129.75,185.42 157.25,139.76 184.75,91.66 212.25,80.51 239.75,94.34 267.25,137.28 294.75,151.27 322.25,197.33 349.75,201.94" fill="none" stroke="#CCCCFF" stroke-width="1" stroke-linejoin="miter"/>
<path d="M47.25 198.73L49.65 201.13L47.25 203.53L44.85 201.13Z" fill="#CCCCFF"/>
<path d="M74.75 194.44L77.15 196.84L74.75 199.24L72.35 196.84Z" fill="#CCCCFF"/>
<path d="M102.25 187.57L104.65 189.97L102.25 192.37L99.85 189.97Z" fill="#CCCCFF"/>
<path d="M129.75 183.02L132.15 185.42L129.75 187.82L127.35 185.42Z" fill="#CCCCFF"/>
<path d="M157.25 137.36L159.65 139.76L157.25 142.16L154.85 139.76Z" fill="#CCCCFF"/>
<path d="M184.75 89.26L187.15 91.66L184.75 94.06L182.35 91.66Z" fill="#CCCCFF"/>
<path d="M212.25 78.11L214.65 80.51L212.25 82.91L209.85 80.51Z" fill="#CCCCFF"/>
<path d="M239.75 91.94L242.15 94.34L239.75 96.74L237.35 94.34Z" fill="#CCCCFF"/>
<path d="M267.25 134.88L269.65 137.28L267.25 139.68L264.85 137.28Z" fill="#CCCCFF"/>
<path d="M294.75 148.87L297.15 151.27L294.75 153.67L292.35 151.27Z" fill="#CCCCFF"/>
<path d="M322.25 194.93L324.65 197.33L322.25 199.73L319.85 197.33Z" fill="#CCCCFF"/>
<path d="M349.75 199.54L352.15 201.94L349.75 204.34L347.35 201.94Z" fill="#CCCCFF"/>
<polyline points="47.25,200.44 74.75,198.48 102.25,188.36 129.75,175.83 157.25,138.81 184.75,98.52 212.25,83.28 239.75,97.43 267.25,110.50 294.75,169.30 322.25,201.97 349.75,205.23" fill="none" stroke="#000" stroke-width="2.0" stroke-linejoin="miter"/>
<line x1="33.0" y1="12.5" x2="364.0" y2="12.5" stroke="#111" stroke-width="1"/><line x1="33.0" y1="208.5" x2="364.0" y2="208.5" stroke="#111" stroke-width="1"/><line x1="33.5" y1="12.5" x2="33.5" y2="208.5" stroke="#111" stroke-width="1"/><line x1="363.5" y1="12.5" x2="363.5" y2="208.5" stroke="#111" stroke-width="1"/>
<g transform="translate(7.7,151.2) rotate(-90)"><text x="2.28" y="0.00" text-anchor="middle" class="at">P</text><text x="6.84" y="0.00" text-anchor="middle" class="at">r</text><text x="11.40" y="0.00" text-anchor="middle" class="at">e</text><text x="15.97" y="0.00" text-anchor="middle" class="at">c</text><text x="20.53" y="0.00" text-anchor="middle" class="at">i</text><text x="25.09" y="0.00" text-anchor="middle" class="at">p</text><text x="29.65" y="0.00" text-anchor="middle" class="at">i</text><text x="34.21" y="0.00" text-anchor="middle" class="at">t</text><text x="38.77" y="0.00" text-anchor="middle" class="at">a</text><text x="43.33" y="0.00" text-anchor="middle" class="at">t</text><text x="47.90" y="0.00" text-anchor="middle" class="at">i</text><text x="52.46" y="0.00" text-anchor="middle" class="at">o</text><text x="57.02" y="0.00" text-anchor="middle" class="at">n</text></g>
<text transform="translate(7.7,85.4) rotate(-90)" class="at" textLength="15" lengthAdjust="spacingAndGlyphs">(mm)</text>
<rect x="367.7" y="0.4" width="42.8" height="232.2" fill="#fff" stroke="#111" stroke-width="1"/>
<line x1="370.3" y1="7.70" x2="388.3" y2="7.70" stroke="#000080" stroke-width="1"/>
<path d="M379.60 5.30L382.00 7.70L379.60 10.10L377.20 7.70Z" fill="#000080"/>
<text x="390.1" y="11.30" class="lg">1951</text>
<line x1="370.3" y1="19.77" x2="388.3" y2="19.77" stroke="#FF00FF" stroke-width="1"/>
<rect x="377.60" y="17.77" width="4" height="4" fill="#FF00FF"/>
<text x="390.1" y="23.37" class="lg">1952</text>
<line x1="370.3" y1="31.84" x2="388.3" y2="31.84" stroke="#FFFF00" stroke-width="1"/>
<path d="M379.60 29.34L382.10 33.84L377.10 33.84Z" fill="#FFFF00"/>
<text x="390.1" y="35.44" class="lg">1953</text>
<line x1="370.3" y1="43.91" x2="388.3" y2="43.91" stroke="#00FFFF" stroke-width="1"/>
<path d="M377.60 41.91L381.60 45.91M381.60 41.91L377.60 45.91" stroke="#00FFFF" stroke-width="1.1" fill="none"/>
<text x="390.1" y="47.51" class="lg">1954</text>
<line x1="370.3" y1="55.98" x2="388.3" y2="55.98" stroke="#800080" stroke-width="1"/>
<path d="M377.60 53.98L381.60 57.98M381.60 53.98L377.60 57.98M379.60 53.68L379.60 58.28" stroke="#800080" stroke-width="1.2" fill="none"/>
<text x="390.1" y="59.58" class="lg">1955</text>
<line x1="370.3" y1="68.05" x2="388.3" y2="68.05" stroke="#800000" stroke-width="1"/>
<circle cx="379.60" cy="68.05" r="2.2" fill="#800000"/>
<text x="390.1" y="71.65" class="lg">1956</text>
<line x1="370.3" y1="80.12" x2="388.3" y2="80.12" stroke="#008080" stroke-width="1"/>
<path d="M377.10 80.12L382.10 80.12M379.60 77.62L379.60 82.62" stroke="#008080" stroke-width="1" fill="none"/>
<text x="390.1" y="83.72" class="lg">1957</text>
<line x1="370.3" y1="92.19" x2="388.3" y2="92.19" stroke="#0000FF" stroke-width="1"/>
<rect x="378.10" y="90.89" width="3" height="1.3" fill="#0000FF"/>
<text x="390.1" y="95.79" class="lg">1958</text>
<line x1="370.3" y1="104.26" x2="388.3" y2="104.26" stroke="#00CCFF" stroke-width="1"/>
<rect x="377.10" y="102.96" width="5" height="1.3" fill="#00CCFF"/>
<text x="390.1" y="107.86" class="lg">1959</text>
<line x1="370.3" y1="116.33" x2="388.3" y2="116.33" stroke="#CCFFFF" stroke-width="1"/>
<path d="M379.60 113.93L382.00 116.33L379.60 118.73L377.20 116.33Z" fill="#CCFFFF"/>
<text x="390.1" y="119.93" class="lg">1960</text>
<line x1="370.3" y1="128.40" x2="388.3" y2="128.40" stroke="#CCFFCC" stroke-width="1"/>
<rect x="377.60" y="126.40" width="4" height="4" fill="#CCFFCC"/>
<text x="390.1" y="132.00" class="lg">1961</text>
<line x1="370.3" y1="140.47" x2="388.3" y2="140.47" stroke="#FFFF99" stroke-width="1"/>
<path d="M379.60 137.97L382.10 142.47L377.10 142.47Z" fill="#FFFF99"/>
<text x="390.1" y="144.07" class="lg">1962</text>
<line x1="370.3" y1="152.54" x2="388.3" y2="152.54" stroke="#99CCFF" stroke-width="1"/>
<path d="M377.60 150.54L381.60 154.54M381.60 150.54L377.60 154.54" stroke="#99CCFF" stroke-width="1.1" fill="none"/>
<text x="390.1" y="156.14" class="lg">1963</text>
<line x1="370.3" y1="164.61" x2="388.3" y2="164.61" stroke="#FF99CC" stroke-width="1"/>
<path d="M377.60 162.61L381.60 166.61M381.60 162.61L377.60 166.61M379.60 162.31L379.60 166.91" stroke="#FF99CC" stroke-width="1.2" fill="none"/>
<text x="390.1" y="168.21" class="lg">1964</text>
<line x1="370.3" y1="176.68" x2="388.3" y2="176.68" stroke="#CC99FF" stroke-width="1"/>
<circle cx="379.60" cy="176.68" r="2.2" fill="#CC99FF"/>
<text x="390.1" y="180.28" class="lg">1965</text>
<line x1="370.3" y1="188.75" x2="388.3" y2="188.75" stroke="#FFCC99" stroke-width="1"/>
<path d="M377.10 188.75L382.10 188.75M379.60 186.25L379.60 191.25" stroke="#FFCC99" stroke-width="1" fill="none"/>
<text x="390.1" y="192.35" class="lg">1966</text>
<line x1="370.3" y1="200.82" x2="388.3" y2="200.82" stroke="#3366FF" stroke-width="1"/>
<rect x="378.10" y="199.52" width="3" height="1.3" fill="#3366FF"/>
<text x="390.1" y="204.42" class="lg">1967</text>
<line x1="370.3" y1="212.89" x2="388.3" y2="212.89" stroke="#33CCCC" stroke-width="1"/>
<rect x="377.10" y="211.59" width="5" height="1.3" fill="#33CCCC"/>
<text x="390.1" y="216.49" class="lg">1968</text>
<line x1="370.3" y1="224.96" x2="388.3" y2="224.96" stroke="#99CC00" stroke-width="1"/>
<path d="M379.60 222.56L382.00 224.96L379.60 227.36L377.20 224.96Z" fill="#99CC00"/>
<text x="390.1" y="228.56" class="lg">1969</text>
<line x1="35.5" y1="460.50" x2="38.5" y2="460.50" stroke="#222" stroke-width="1"/>
<text x="28.30" y="464.60" class="tl" text-anchor="end">0</text>
<line x1="35.5" y1="436.75" x2="38.5" y2="436.75" stroke="#222" stroke-width="1"/>
<text x="28.30" y="440.85" class="tl" text-anchor="end">10</text>
<line x1="35.5" y1="413.00" x2="38.5" y2="413.00" stroke="#222" stroke-width="1"/>
<text x="28.30" y="417.10" class="tl" text-anchor="end">20</text>
<line x1="35.5" y1="389.25" x2="38.5" y2="389.25" stroke="#222" stroke-width="1"/>
<text x="28.30" y="393.35" class="tl" text-anchor="end">30</text>
<line x1="35.5" y1="365.50" x2="38.5" y2="365.50" stroke="#222" stroke-width="1"/>
<text x="28.30" y="369.60" class="tl" text-anchor="end">40</text>
<line x1="35.5" y1="341.75" x2="38.5" y2="341.75" stroke="#222" stroke-width="1"/>
<text x="28.30" y="345.85" class="tl" text-anchor="end">50</text>
<line x1="35.5" y1="318.00" x2="38.5" y2="318.00" stroke="#222" stroke-width="1"/>
<text x="28.30" y="322.10" class="tl" text-anchor="end">60</text>
<line x1="35.5" y1="294.25" x2="38.5" y2="294.25" stroke="#222" stroke-width="1"/>
<text x="28.30" y="298.35" class="tl" text-anchor="end">70</text>
<line x1="35.5" y1="270.50" x2="38.5" y2="270.50" stroke="#222" stroke-width="1"/>
<text x="28.30" y="274.60" class="tl" text-anchor="end">80</text>
<line x1="62.50" y1="460.5" x2="62.50" y2="457.5" stroke="#222" stroke-width="1"/>
<line x1="89.50" y1="460.5" x2="89.50" y2="457.5" stroke="#222" stroke-width="1"/>
<line x1="116.50" y1="460.5" x2="116.50" y2="457.5" stroke="#222" stroke-width="1"/>
<line x1="143.50" y1="460.5" x2="143.50" y2="457.5" stroke="#222" stroke-width="1"/>
<line x1="170.50" y1="460.5" x2="170.50" y2="457.5" stroke="#222" stroke-width="1"/>
<line x1="197.50" y1="460.5" x2="197.50" y2="457.5" stroke="#222" stroke-width="1"/>
<line x1="224.50" y1="460.5" x2="224.50" y2="457.5" stroke="#222" stroke-width="1"/>
<line x1="251.50" y1="460.5" x2="251.50" y2="457.5" stroke="#222" stroke-width="1"/>
<line x1="278.50" y1="460.5" x2="278.50" y2="457.5" stroke="#222" stroke-width="1"/>
<line x1="305.50" y1="460.5" x2="305.50" y2="457.5" stroke="#222" stroke-width="1"/>
<line x1="332.50" y1="460.5" x2="332.50" y2="457.5" stroke="#222" stroke-width="1"/>
<text x="44.47" y="476.60" text-anchor="middle" class="ml">J</text><text x="49.00" y="476.60" text-anchor="middle" class="ml">a</text><text x="53.53" y="476.60" text-anchor="middle" class="ml">n</text>
<text transform="translate(71.47,476.60) scale(0.953,1)" text-anchor="middle" class="ml">F</text><text x="76.00" y="476.60" text-anchor="middle" class="ml">e</text><text x="80.53" y="476.60" text-anchor="middle" class="ml">b</text>
<text transform="translate(98.47,476.60) scale(0.563,1)" text-anchor="middle" class="ml">M</text><text x="103.00" y="476.60" text-anchor="middle" class="ml">a</text><text x="107.53" y="476.60" text-anchor="middle" class="ml">r</text>
<text transform="translate(125.47,476.60) scale(0.664,1)" text-anchor="middle" class="ml">A</text><text x="130.00" y="476.60" text-anchor="middle" class="ml">p</text><text x="134.53" y="476.60" text-anchor="middle" class="ml">r</text>
<text transform="translate(152.47,476.60) scale(0.563,1)" text-anchor="middle" class="ml">M</text><text x="157.00" y="476.60" text-anchor="middle" class="ml">a</text><text transform="translate(161.53,476.60) scale(0.967,1)" text-anchor="middle" class="ml">y</text>
<text x="179.47" y="476.60" text-anchor="middle" class="ml">J</text><text transform="translate(184.00,476.60) scale(0.997,1)" text-anchor="middle" class="ml">u</text><text x="188.53" y="476.60" text-anchor="middle" class="ml">n</text>
<text x="206.47" y="476.60" text-anchor="middle" class="ml">J</text><text transform="translate(211.00,476.60) scale(0.997,1)" text-anchor="middle" class="ml">u</text><text x="215.53" y="476.60" text-anchor="middle" class="ml">l</text>
<text transform="translate(233.47,476.60) scale(0.664,1)" text-anchor="middle" class="ml">A</text><text transform="translate(238.00,476.60) scale(0.997,1)" text-anchor="middle" class="ml">u</text><text x="242.53" y="476.60" text-anchor="middle" class="ml">g</text>
<text x="260.47" y="476.60" text-anchor="middle" class="ml">S</text><text x="265.00" y="476.60" text-anchor="middle" class="ml">e</text><text x="269.53" y="476.60" text-anchor="middle" class="ml">p</text>
<text transform="translate(287.47,476.60) scale(0.731,1)" text-anchor="middle" class="ml">O</text><text x="292.00" y="476.60" text-anchor="middle" class="ml">c</text><text x="296.53" y="476.60" text-anchor="middle" class="ml">t</text>
<text transform="translate(314.47,476.60) scale(0.698,1)" text-anchor="middle" class="ml">N</text><text x="319.00" y="476.60" text-anchor="middle" class="ml">o</text><text transform="translate(323.53,476.60) scale(0.936,1)" text-anchor="middle" class="ml">v</text>
<text transform="translate(341.47,476.60) scale(0.717,1)" text-anchor="middle" class="ml">D</text><text x="346.00" y="476.60" text-anchor="middle" class="ml">e</text><text x="350.53" y="476.60" text-anchor="middle" class="ml">c</text>
<polyline points="49.00,451.61 76.00,449.90 103.00,446.14 130.00,442.02 157.00,428.78 184.00,409.70 211.00,378.56 238.00,387.11 265.00,378.02 292.00,398.73 319.00,428.84 346.00,444.67" fill="none" stroke="#000080" stroke-width="1.0" stroke-linejoin="miter"/>
<polyline points="49.00,452.79 76.00,453.47 103.00,451.27 130.00,444.63 157.00,436.06 184.00,416.99 211.00,397.99 238.00,426.59 265.00,425.08 292.00,430.31 319.00,433.94 346.00,449.19" fill="none" stroke="#FF00FF" stroke-width="1.0" stroke-linejoin="miter"/>
<polyline points="49.00,453.88 76.00,453.87 103.00,449.79 130.00,444.77 157.00,432.17 184.00,430.97 211.00,342.46 238.00,377.38 265.00,340.56 292.00,422.94 319.00,441.06 346.00,447.78" fill="none" stroke="#FFFF00" stroke-width="1.0" stroke-linejoin="miter"/>
<polyline points="49.00,451.07 76.00,452.68 103.00,446.90 130.00,441.54 157.00,426.70 184.00,412.78 211.00,420.24 238.00,414.83 265.00,413.36 292.00,401.79 319.00,436.71 346.00,445.61" fill="none" stroke="#00FFFF" stroke-width="1.0" stroke-linejoin="miter"/>
<polyline points="49.00,454.17 76.00,452.43 103.00,447.40 130.00,442.70 157.00,443.46 184.00,415.15 211.00,340.80 238.00,389.25 265.00,342.46 292.00,389.25 319.00,444.52 346.00,445.45" fill="none" stroke="#800080" stroke-width="1.0" stroke-linejoin="miter"/>
<polyline points="49.00,448.64 76.00,449.73 103.00,444.41 130.00,438.43 157.00,430.69 184.00,434.38 211.00,432.00 238.00,432.00 265.00,430.37 292.00,406.63 319.00,430.99 346.00,446.91" fill="none" stroke="#800000" stroke-width="1.0" stroke-linejoin="miter"/>
<polyline points="49.00,451.51 76.00,451.31 103.00,446.59 130.00,444.15 157.00,429.90 184.00,397.63 211.00,408.44 238.00,402.11 265.00,395.81 292.00,417.58 319.00,435.69 346.00,451.39" fill="none" stroke="#008080" stroke-width="1.0" stroke-linejoin="miter"/>
<polyline points="49.00,453.08 76.00,451.54 103.00,447.61 130.00,447.44 157.00,444.13 184.00,406.38 211.00,395.68 238.00,389.25 265.00,348.88 292.00,396.38 319.00,434.38 346.00,453.15" fill="none" stroke="#0000FF" stroke-width="1.0" stroke-linejoin="miter"/>
<polyline points="49.00,453.88 76.00,453.19 103.00,447.40 130.00,444.95 157.00,444.46 184.00,433.19 211.00,418.10 238.00,402.67 265.00,406.30 292.00,429.16 319.00,434.93 346.00,448.76" fill="none" stroke="#00CCFF" stroke-width="1.0" stroke-linejoin="miter"/>
<polyline points="49.00,452.58 76.00,453.16 103.00,451.33 130.00,447.33 157.00,437.38 184.00,412.60 211.00,425.40 238.00,415.36 265.00,422.29 292.00,425.20 319.00,446.58 346.00,447.04" fill="none" stroke="#CCFFFF" stroke-width="1.0" stroke-linejoin="miter"/>
<polyline points="49.00,448.76 76.00,450.51 103.00,444.81 130.00,439.86 157.00,424.38 184.00,414.67 211.00,384.71 238.00,404.69 265.00,417.67 292.00,413.11 319.00,439.88 346.00,449.43" fill="none" stroke="#CCFFCC" stroke-width="1.0" stroke-linejoin="miter"/>
<polyline points="49.00,453.93 76.00,450.10 103.00,445.96 130.00,441.92 157.00,432.01 184.00,429.23 211.00,404.47 238.00,430.77 265.00,428.06 292.00,427.69 319.00,442.28 346.00,447.53" fill="none" stroke="#FFFF99" stroke-width="1.0" stroke-linejoin="miter"/>
<polyline points="49.00,449.56 76.00,453.70 103.00,448.16 130.00,449.36 157.00,400.18 184.00,401.12 211.00,410.63 238.00,419.58 265.00,356.48 292.00,419.00 319.00,439.88 346.00,450.73" fill="none" stroke="#99CCFF" stroke-width="1.0" stroke-linejoin="miter"/>
<polyline points="49.00,450.90 76.00,450.43 103.00,446.88 130.00,439.60 157.00,432.12 184.00,410.63 211.00,373.21 238.00,401.86 265.00,385.42 292.00,409.04 319.00,422.50 346.00,445.87" fill="none" stroke="#FF99CC" stroke-width="1.0" stroke-linejoin="miter"/>
<polyline points="49.00,449.60 76.00,450.84 103.00,444.95 130.00,437.46 157.00,422.08 184.00,398.27 211.00,370.45 238.00,410.68 265.00,381.15 292.00,404.53 319.00,431.13 346.00,444.09" fill="none" stroke="#CC99FF" stroke-width="1.0" stroke-linejoin="miter"/>
<polyline points="49.00,451.17 76.00,449.98 103.00,448.63 130.00,447.14 157.00,430.02 184.00,423.34 211.00,395.16 238.00,403.21 265.00,437.38 292.00,421.66 319.00,447.70 346.00,451.85" fill="none" stroke="#FFCC99" stroke-width="1.0" stroke-linejoin="miter"/>
<polyline points="49.00,453.70 76.00,452.93 103.00,448.72 130.00,441.98 157.00,430.32 184.00,412.15 211.00,405.18 238.00,416.25 265.00,402.18 292.00,424.19 319.00,440.84 346.00,446.22" fill="none" stroke="#3366FF" stroke-width="1.0" stroke-linejoin="miter"/>
<polyline points="49.00,454.80 76.00,451.83 103.00,449.93 130.00,449.73 157.00,443.58 184.00,407.08 211.00,369.99 238.00,423.00 265.00,414.26 292.00,417.63 319.00,440.40 346.00,453.47" fill="none" stroke="#33CCCC" stroke-width="1.0" stroke-linejoin="miter"/>
<polyline points="49.00,450.87 76.00,451.92 103.00,450.38 130.00,444.20 157.00,431.41 184.00,415.95 211.00,389.14 238.00,408.10 265.00,388.06 292.00,403.05 319.00,441.22 346.00,448.69" fill="none" stroke="#99CC00" stroke-width="1.0" stroke-linejoin="miter"/>
<polyline points="49.00,452.96 76.00,450.18 103.00,449.22 130.00,442.70 157.00,429.86 184.00,427.22 211.00,378.51 238.00,411.41 265.00,422.01 292.00,424.05 319.00,445.72 346.00,451.55" fill="none" stroke="#FFCC00" stroke-width="1.0" stroke-linejoin="miter"/>
<polyline points="49.00,451.00 76.00,451.45 103.00,446.32 130.00,427.25 157.00,415.38 184.00,408.25 211.00,365.50 238.00,363.12 265.00,374.05 292.00,358.38 319.00,434.73 346.00,447.16" fill="none" stroke="#FF9900" stroke-width="1.0" stroke-linejoin="miter"/>
<polyline points="49.00,454.26 76.00,453.04 103.00,450.99 130.00,448.05 157.00,445.80 184.00,431.63 211.00,425.34 238.00,425.89 265.00,415.70 292.00,425.44 319.00,439.63 346.00,448.65" fill="none" stroke="#FF6600" stroke-width="1.0" stroke-linejoin="miter"/>
<polyline points="49.00,450.95 76.00,452.98 103.00,451.43 130.00,447.51 157.00,438.37 184.00,432.65 211.00,373.58 238.00,417.73 265.00,407.96 292.00,433.63 319.00,440.38 346.00,449.28" fill="none" stroke="#666699" stroke-width="1.0" stroke-linejoin="miter"/>
<polyline points="49.00,453.08 76.00,453.19 103.00,449.16 130.00,448.95 157.00,435.75 184.00,427.46 211.00,432.00 238.00,434.38 265.00,442.45 292.00,438.41 319.00,448.62 346.00,454.09" fill="none" stroke="#969696" stroke-width="1.0" stroke-linejoin="miter"/>
<polyline points="49.00,448.95 76.00,450.44 103.00,446.27 130.00,439.69 157.00,438.18 184.00,399.14 211.00,392.35 238.00,408.47 265.00,399.05 292.00,434.20 319.00,440.41 346.00,449.32" fill="none" stroke="#003366" stroke-width="1.0" stroke-linejoin="miter"/>
<polyline points="49.00,453.52 76.00,452.07 103.00,450.84 130.00,448.57 157.00,440.97 184.00,431.88 211.00,420.78 238.00,408.96 265.00,282.38 292.00,384.50 319.00,427.25 346.00,451.69" fill="none" stroke="#339966" stroke-width="1.0" stroke-linejoin="miter"/>
<polyline points="49.00,454.23 76.00,453.26 103.00,448.82 130.00,441.57 157.00,440.83 184.00,404.79 211.00,374.51 238.00,416.30 265.00,390.28 292.00,434.00 319.00,437.20 346.00,451.77" fill="none" stroke="#003300" stroke-width="1.0" stroke-linejoin="miter"/>
<polyline points="49.00,449.91 76.00,450.78 103.00,448.47 130.00,445.94 157.00,413.00 184.00,389.25 211.00,322.75 238.00,370.25 265.00,389.25 292.00,394.00 319.00,446.26 346.00,450.41" fill="none" stroke="#333300" stroke-width="1.0" stroke-linejoin="miter"/>
<polyline points="49.00,454.47 76.00,454.65 103.00,449.90 130.00,448.90 157.00,439.98 184.00,434.02 211.00,334.15 238.00,360.75 265.00,370.25 292.00,426.80 319.00,434.95 346.00,448.55" fill="none" stroke="#993300" stroke-width="1.0" stroke-linejoin="miter"/>
<polyline points="49.00,450.64 76.00,454.27 103.00,449.06 130.00,445.00 157.00,443.90 184.00,424.47 211.00,432.18 238.00,424.48 265.00,428.43 292.00,432.94 319.00,443.87 346.00,449.09" fill="none" stroke="#993366" stroke-width="1.0" stroke-linejoin="miter"/>
<polyline points="49.00,452.63 76.00,450.60 103.00,445.66 130.00,442.31 157.00,429.67 184.00,432.62 211.00,420.18 238.00,401.37 265.00,428.50 292.00,402.56 319.00,431.16 346.00,450.10" fill="none" stroke="#333399" stroke-width="1.0" stroke-linejoin="miter"/>
<polyline points="49.00,454.43 76.00,453.33 103.00,449.09 130.00,448.07 157.00,441.55 184.00,432.97 211.00,416.01 238.00,431.09 265.00,375.95 292.00,375.95 319.00,432.00 346.00,450.62" fill="none" stroke="#333333" stroke-width="1.0" stroke-linejoin="miter"/>
<polyline points="49.00,452.51 76.00,454.50 103.00,448.14 130.00,444.18 157.00,429.36 184.00,425.77 211.00,418.75 238.00,409.26 265.00,438.10 292.00,429.84 319.00,445.25 346.00,451.44" fill="none" stroke="#000000" stroke-width="1.0" stroke-linejoin="miter"/>
<polyline points="49.00,455.79 76.00,454.78 103.00,448.45 130.00,448.77 157.00,413.48 184.00,340.56 211.00,339.38 238.00,358.38 265.00,365.50 292.00,389.25 319.00,428.91 346.00,446.25" fill="none" stroke="#FF0000" stroke-width="1.0" stroke-linejoin="miter"/>
<polyline points="49.00,455.77 76.00,454.71 103.00,449.26 130.00,449.26 157.00,445.32 184.00,431.23 211.00,416.27 238.00,416.63 265.00,430.96 292.00,432.38 319.00,443.12 346.00,453.24" fill="none" stroke="#00FF00" stroke-width="1.0" stroke-linejoin="miter"/>
<polyline points="49.00,449.77 76.00,453.25 103.00,450.33 130.00,448.62 157.00,434.95 184.00,414.74 211.00,411.77 238.00,416.83 265.00,396.79 292.00,419.36 319.00,435.53 346.00,449.95" fill="none" stroke="#0000FF" stroke-width="1.0" stroke-linejoin="miter"/>
<polyline points="49.00,449.74 76.00,451.69 103.00,448.35 130.00,436.77 157.00,437.24 184.00,422.07 211.00,426.96 238.00,393.09 265.00,402.53 292.00,410.87 319.00,442.67 346.00,447.03" fill="none" stroke="#FFFF00" stroke-width="1.0" stroke-linejoin="miter"/>
<polyline points="49.00,455.22 76.00,453.55 103.00,449.55 130.00,447.27 157.00,443.01 184.00,420.56 211.00,412.45 238.00,425.42 265.00,418.31 292.00,424.28 319.00,437.96 346.00,448.74" fill="none" stroke="#FF00FF" stroke-width="1.0" stroke-linejoin="miter"/>
<polyline points="49.00,452.84 76.00,450.17 103.00,446.12 130.00,445.00 157.00,425.65 184.00,415.79 211.00,414.15 238.00,407.83 265.00,427.58 292.00,401.35 319.00,443.18 346.00,445.03" fill="none" stroke="#00FFFF" stroke-width="1.0" stroke-linejoin="miter"/>
<polyline points="49.00,453.93 76.00,451.90 103.00,449.53 130.00,449.53 157.00,441.07 184.00,434.16 211.00,405.97 238.00,431.02 265.00,427.22 292.00,428.78 319.00,448.16 346.00,450.07" fill="none" stroke="#800000" stroke-width="1.0" stroke-linejoin="miter"/>
<polyline points="49.00,452.06 76.00,451.75 103.00,445.90 130.00,437.66 157.00,433.24 184.00,382.12 211.00,367.88 238.00,401.12 265.00,410.08 292.00,392.28 319.00,428.51 346.00,449.43" fill="none" stroke="#008000" stroke-width="1.0" stroke-linejoin="miter"/>
<polyline points="49.00,453.07 76.00,453.96 103.00,450.87 130.00,446.73 157.00,443.84 184.00,430.04 211.00,412.23 238.00,425.20 265.00,420.64 292.00,415.02 319.00,436.73 346.00,450.43" fill="none" stroke="#000080" stroke-width="1.0" stroke-linejoin="miter"/>
<polyline points="49.00,450.86 76.00,449.62 103.00,444.46 130.00,439.60 157.00,423.37 184.00,411.90 211.00,389.25 238.00,394.00 265.00,391.62 292.00,357.90 319.00,417.99 346.00,442.45" fill="none" stroke="#808000" stroke-width="1.0" stroke-linejoin="miter"/>
<polyline points="49.00,453.69 76.00,452.91 103.00,448.88 130.00,445.00 157.00,442.82 184.00,409.74 211.00,389.19 238.00,411.12 265.00,424.20 292.00,408.12 319.00,440.77 346.00,449.90" fill="none" stroke="#800080" stroke-width="1.0" stroke-linejoin="miter"/>
<polyline points="49.00,452.78 76.00,451.89 103.00,448.91 130.00,441.38 157.00,430.37 184.00,410.09 211.00,391.08 238.00,403.67 265.00,403.71 292.00,405.23 319.00,441.78 346.00,450.80" fill="none" stroke="#008080" stroke-width="1.0" stroke-linejoin="miter"/>
<polyline points="49.00,452.20 76.00,452.89 103.00,445.97 130.00,442.88 157.00,427.59 184.00,419.41 211.00,423.54 238.00,427.55 265.00,398.31 292.00,418.64 319.00,441.25 346.00,445.95" fill="none" stroke="#C0C0C0" stroke-width="1.0" stroke-linejoin="miter"/>
<polyline points="49.00,449.86 76.00,449.50 103.00,447.02 130.00,443.50 157.00,437.94 184.00,400.07 211.00,409.21 238.00,402.40 265.00,394.45 292.00,399.15 319.00,442.04 346.00,446.63" fill="none" stroke="#808080" stroke-width="1.0" stroke-linejoin="miter"/>
<polyline points="49.00,451.18 76.00,453.33 103.00,450.90 130.00,441.09 157.00,438.26 184.00,418.87 211.00,409.10 238.00,421.44 265.00,414.01 292.00,431.95 319.00,447.39 346.00,451.86" fill="none" stroke="#9999FF" stroke-width="1.0" stroke-linejoin="miter"/>
<polyline points="49.00,452.39 76.00,450.43 103.00,446.58 130.00,442.38 157.00,426.22 184.00,412.96 211.00,392.04 238.00,410.19 265.00,410.44 292.00,414.85 319.00,432.01 346.00,444.82" fill="none" stroke="#993366" stroke-width="1.0" stroke-linejoin="miter"/>
<polyline points="49.00,450.88 76.00,451.67 103.00,446.82 130.00,443.79 157.00,430.65 184.00,416.22 211.00,392.34 238.00,429.37 265.00,403.75 292.00,402.59 319.00,440.38 346.00,444.19" fill="none" stroke="#FFFFCC" stroke-width="1.0" stroke-linejoin="miter"/>
<polyline points="49.00,452.43 76.00,452.90 103.00,447.91 130.00,442.69 157.00,432.48 184.00,415.38 211.00,395.19 238.00,404.69 265.00,401.12 292.00,410.62 319.00,436.04 346.00,447.91" fill="none" stroke="#000" stroke-width="2.0" stroke-linejoin="miter"/>
<line x1="35.0" y1="270.5" x2="360.0" y2="270.5" stroke="#222" stroke-width="1"/><line x1="35.0" y1="460.5" x2="360.0" y2="460.5" stroke="#222" stroke-width="1"/><line x1="35.5" y1="270.5" x2="35.5" y2="460.5" stroke="#666" stroke-width="1.3"/><line x1="359.5" y1="270.5" x2="359.5" y2="460.5" stroke="#666" stroke-width="1.3"/>
<g transform="translate(13.6,389.3) rotate(-90)"><text transform="translate(2.16,0.00) scale(0.732,1)" text-anchor="middle" class="at">R</text><text transform="translate(6.47,0.00) scale(0.992,1)" text-anchor="middle" class="at">u</text><text x="10.79" y="0.00" text-anchor="middle" class="at">n</text><text x="15.11" y="0.00" text-anchor="middle" class="at">o</text><text x="19.42" y="0.00" text-anchor="middle" class="at">f</text><text x="23.74" y="0.00" text-anchor="middle" class="at">f</text></g>
<text transform="translate(13.6,356.8) rotate(-90)" class="at" textLength="13.8" lengthAdjust="spacingAndGlyphs">(mm)</text>
<rect x="366.2" y="257.4" width="40.8" height="240" fill="#fff" stroke="#111" stroke-width="1"/>
<line x1="366.2" y1="257.4" x2="366.2" y2="486" stroke="#555" stroke-width="1.4"/>
<line x1="407" y1="257.4" x2="407" y2="486" stroke="#555" stroke-width="1.4"/>
<line x1="369.1" y1="264.50" x2="384.8" y2="264.50" stroke="#000080" stroke-width="1"/>
<text x="386.7" y="268.10" class="lg">1956</text>
<line x1="369.1" y1="276.68" x2="384.8" y2="276.68" stroke="#FF00FF" stroke-width="1"/>
<text x="386.7" y="280.28" class="lg">1957</text>
<line x1="369.1" y1="288.86" x2="384.8" y2="288.86" stroke="#FFFF00" stroke-width="1"/>
<text x="386.7" y="292.46" class="lg">1958</text>
<line x1="369.1" y1="301.04" x2="384.8" y2="301.04" stroke="#00FFFF" stroke-width="1"/>
<text x="386.7" y="304.64" class="lg">1959</text>
<line x1="369.1" y1="313.22" x2="384.8" y2="313.22" stroke="#800080" stroke-width="1"/>
<text x="386.7" y="316.82" class="lg">1960</text>
<line x1="369.1" y1="325.40" x2="384.8" y2="325.40" stroke="#800000" stroke-width="1"/>
<text x="386.7" y="329.00" class="lg">1961</text>
<line x1="369.1" y1="337.58" x2="384.8" y2="337.58" stroke="#008080" stroke-width="1"/>
<text x="386.7" y="341.18" class="lg">1962</text>
<line x1="369.1" y1="349.76" x2="384.8" y2="349.76" stroke="#0000FF" stroke-width="1"/>
<text x="386.7" y="353.36" class="lg">1963</text>
<line x1="369.1" y1="361.94" x2="384.8" y2="361.94" stroke="#00CCFF" stroke-width="1"/>
<text x="386.7" y="365.54" class="lg">1964</text>
<line x1="369.1" y1="374.12" x2="384.8" y2="374.12" stroke="#CCFFFF" stroke-width="1"/>
<text x="386.7" y="377.72" class="lg">1965</text>
<line x1="369.1" y1="386.30" x2="384.8" y2="386.30" stroke="#CCFFCC" stroke-width="1"/>
<text x="386.7" y="389.90" class="lg">1966</text>
<line x1="369.1" y1="398.48" x2="384.8" y2="398.48" stroke="#FFFF99" stroke-width="1"/>
<text x="386.7" y="402.08" class="lg">1967</text>
<line x1="369.1" y1="410.66" x2="384.8" y2="410.66" stroke="#99CCFF" stroke-width="1"/>
<text x="386.7" y="414.26" class="lg">1968</text>
<line x1="369.1" y1="422.84" x2="384.8" y2="422.84" stroke="#FF99CC" stroke-width="1"/>
<text x="386.7" y="426.44" class="lg">1969</text>
<line x1="369.1" y1="435.02" x2="384.8" y2="435.02" stroke="#CC99FF" stroke-width="1"/>
<text x="386.7" y="438.62" class="lg">1970</text>
<line x1="369.1" y1="447.20" x2="384.8" y2="447.20" stroke="#FFCC99" stroke-width="1"/>
<text x="386.7" y="450.80" class="lg">1971</text>
<line x1="369.1" y1="459.38" x2="384.8" y2="459.38" stroke="#3366FF" stroke-width="1"/>
<text x="386.7" y="462.98" class="lg">1972</text>
<line x1="369.1" y1="471.56" x2="384.8" y2="471.56" stroke="#33CCCC" stroke-width="1"/>
<text x="386.7" y="475.16" class="lg">1973</text>
<line x1="369.1" y1="483.74" x2="384.8" y2="483.74" stroke="#99CC00" stroke-width="1"/>
<text x="386.7" y="487.34" class="lg">1974</text>
<rect x="366" y="485" width="41" height="1" fill="#000"/>
</svg>
</body></html>
